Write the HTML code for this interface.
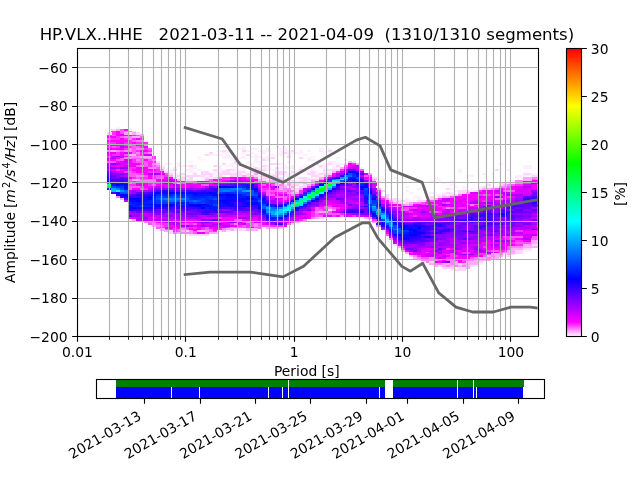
<!DOCTYPE html>
<html><head><meta charset="utf-8"><title>PPSD HP.VLX..HHE</title><style>html,body{margin:0;padding:0;background:#fff;overflow:hidden}svg{display:block;will-change:transform}</style></head><body><svg width="640" height="480" viewBox="0 0 640 480" style="display:block;font-family:'DejaVu Sans','Liberation Sans',sans-serif">
<rect width="640" height="480" fill="#fff"/>
<defs><clipPath id="c"><rect x="76.80" y="48.00" width="460.80" height="288.00"/></clipPath>
<linearGradient id="g" x1="0" y1="1" x2="0" y2="0"><stop offset="0" stop-color="#ffffff"/><stop offset="0.05" stop-color="#ff00ff"/><stop offset="0.2" stop-color="#0000ff"/><stop offset="0.4" stop-color="#00ffff"/><stop offset="0.6" stop-color="#00ff00"/><stop offset="0.8" stop-color="#ffff00"/><stop offset="1" stop-color="#ff0000"/></linearGradient></defs>
<g clip-path="url(#c)" shape-rendering="crispEdges">
<path fill="#002aff" d="M107.38 188.16h4.18v2.02h-4.18zM135.92 205.44h4.18v2.02h-4.18zM144.07 205.44h4.18v2.02h-4.18zM152.23 197.76h4.18v3.94h-4.18zM156.31 193.92h4.18v2.02h-4.18zM160.38 193.92h4.18v2.02h-4.18zM172.61 201.60h4.18v2.02h-4.18zM176.69 193.92h4.18v2.02h-4.18zM180.77 203.52h4.18v2.02h-4.18zM180.77 195.84h4.18v2.02h-4.18zM184.84 193.92h4.18v2.02h-4.18zM188.92 195.84h4.18v2.02h-4.18zM193.00 197.76h4.18v2.02h-4.18zM205.23 195.84h4.18v7.78h-4.18zM209.31 203.52h4.18v2.02h-4.18zM213.38 199.68h4.18v3.94h-4.18zM213.38 195.84h4.18v2.02h-4.18zM221.54 192.00h4.18v2.02h-4.18zM229.69 192.00h4.18v2.02h-4.18zM241.92 193.92h4.18v2.02h-4.18zM241.92 186.24h4.18v2.02h-4.18zM254.16 195.84h4.18v2.02h-4.18zM254.16 192.00h4.18v2.02h-4.18zM258.23 197.76h4.18v2.02h-4.18zM352.01 172.80h4.18v2.02h-4.18zM364.24 193.92h4.18v2.02h-4.18zM368.31 207.36h4.18v2.02h-4.18zM372.39 211.20h4.18v2.02h-4.18zM384.62 213.12h4.18v2.02h-4.18zM400.93 232.32h4.18v2.02h-4.18z"/>
<path fill="#00ff2a" d="M107.38 186.24h4.18v2.02h-4.18zM315.31 190.08h4.18v2.02h-4.18zM323.47 186.24h4.18v3.94h-4.18z"/>
<path fill="#00ffbf" d="M107.38 184.32h4.18v2.02h-4.18zM290.85 203.52h4.18v2.02h-4.18zM307.16 193.92h4.18v2.02h-4.18zM323.47 184.32h4.18v2.02h-4.18zM331.62 184.32h4.18v2.02h-4.18zM335.70 180.48h4.18v2.02h-4.18z"/>
<path fill="#006aff" d="M107.38 182.40h4.18v2.02h-4.18zM123.69 190.08h4.18v2.02h-4.18zM160.38 197.76h4.18v2.02h-4.18zM168.54 199.68h4.18v2.02h-4.18zM172.61 199.68h4.18v2.02h-4.18zM193.00 199.68h4.18v2.02h-4.18zM217.46 188.16h4.18v3.94h-4.18zM221.54 188.16h4.18v2.02h-4.18zM225.62 188.16h4.18v2.02h-4.18zM229.69 190.08h4.18v2.02h-4.18zM262.31 205.44h4.18v2.02h-4.18zM266.39 205.44h4.18v2.02h-4.18zM270.46 215.04h4.18v2.02h-4.18zM270.46 207.36h4.18v2.02h-4.18zM282.70 213.12h4.18v2.02h-4.18zM282.70 205.44h4.18v2.02h-4.18zM286.77 203.52h4.18v2.02h-4.18zM290.85 209.28h4.18v2.02h-4.18zM311.24 197.76h4.18v2.02h-4.18zM331.62 186.24h4.18v2.02h-4.18zM331.62 178.56h4.18v2.02h-4.18zM347.93 174.72h4.18v2.02h-4.18zM368.31 199.68h4.18v3.94h-4.18zM376.47 215.04h4.18v2.02h-4.18zM384.62 216.96h4.18v2.02h-4.18z"/>
<path fill="#0e00ff" d="M107.38 180.48h4.18v2.02h-4.18zM123.69 195.84h4.18v2.02h-4.18zM123.69 184.32h4.18v2.02h-4.18zM127.77 197.76h4.18v2.02h-4.18zM135.92 197.76h4.18v2.02h-4.18zM152.23 193.92h4.18v2.02h-4.18zM156.31 192.00h4.18v2.02h-4.18zM160.38 205.44h4.18v2.02h-4.18zM164.46 205.44h4.18v2.02h-4.18zM168.54 205.44h4.18v2.02h-4.18zM176.69 192.00h4.18v2.02h-4.18zM180.77 192.00h4.18v2.02h-4.18zM193.00 203.52h4.18v3.94h-4.18zM193.00 192.00h4.18v2.02h-4.18zM213.38 193.92h4.18v2.02h-4.18zM217.46 199.68h4.18v2.02h-4.18zM221.54 201.60h4.18v2.02h-4.18zM225.62 199.68h4.18v3.94h-4.18zM229.69 203.52h4.18v2.02h-4.18zM229.69 199.68h4.18v2.02h-4.18zM233.77 199.68h4.18v2.02h-4.18zM237.85 199.68h4.18v2.02h-4.18zM241.92 205.44h4.18v2.02h-4.18zM246.00 201.60h4.18v3.94h-4.18zM250.08 201.60h4.18v3.94h-4.18zM254.16 201.60h4.18v2.02h-4.18zM254.16 188.16h4.18v2.02h-4.18zM262.31 211.20h4.18v2.02h-4.18zM262.31 197.76h4.18v2.02h-4.18zM311.24 199.68h4.18v2.02h-4.18zM315.31 197.76h4.18v2.02h-4.18zM319.39 193.92h4.18v2.02h-4.18zM327.54 190.08h4.18v2.02h-4.18zM331.62 188.16h4.18v2.02h-4.18zM339.77 182.40h4.18v2.02h-4.18zM343.85 172.80h4.18v2.02h-4.18zM347.93 170.88h4.18v2.02h-4.18zM356.08 180.48h4.18v2.02h-4.18zM364.24 184.32h4.18v2.02h-4.18zM368.31 190.08h4.18v2.02h-4.18zM372.39 213.12h4.18v2.02h-4.18zM372.39 197.76h4.18v2.02h-4.18zM376.47 203.52h4.18v2.02h-4.18zM392.78 220.80h4.18v2.02h-4.18zM405.01 238.08h4.18v2.02h-4.18zM405.01 228.48h4.18v2.02h-4.18zM413.16 232.32h4.18v2.02h-4.18zM413.16 228.48h4.18v2.02h-4.18zM417.24 232.32h4.18v2.02h-4.18zM417.24 224.64h4.18v2.02h-4.18zM421.32 232.32h4.18v2.02h-4.18z"/>
<path fill="#1c00ff" d="M107.38 178.56h4.18v2.02h-4.18zM115.53 193.92h4.18v2.02h-4.18zM119.61 182.40h4.18v2.02h-4.18zM127.77 209.28h4.18v2.02h-4.18zM135.92 207.36h4.18v2.02h-4.18zM140.00 207.36h4.18v2.02h-4.18zM140.00 197.76h4.18v2.02h-4.18zM144.07 207.36h4.18v2.02h-4.18zM144.07 195.84h4.18v3.94h-4.18zM148.15 207.36h4.18v2.02h-4.18zM152.23 207.36h4.18v2.02h-4.18zM152.23 192.00h4.18v2.02h-4.18zM160.38 192.00h4.18v2.02h-4.18zM164.46 190.08h4.18v3.94h-4.18zM180.77 205.44h4.18v2.02h-4.18zM184.84 205.44h4.18v2.02h-4.18zM188.92 205.44h4.18v2.02h-4.18zM197.08 192.00h4.18v2.02h-4.18zM201.15 192.00h4.18v2.02h-4.18zM205.23 192.00h4.18v2.02h-4.18zM217.46 201.60h4.18v2.02h-4.18zM229.69 205.44h4.18v2.02h-4.18zM229.69 201.60h4.18v2.02h-4.18zM241.92 201.60h4.18v2.02h-4.18zM246.00 205.44h4.18v2.02h-4.18zM254.16 203.52h4.18v2.02h-4.18zM258.23 193.92h4.18v2.02h-4.18zM266.39 216.96h4.18v2.02h-4.18zM278.62 216.96h4.18v2.02h-4.18zM290.85 199.68h4.18v2.02h-4.18zM303.08 203.52h4.18v2.02h-4.18zM360.16 211.20h4.18v2.02h-4.18zM360.16 178.56h4.18v2.02h-4.18zM364.24 197.76h4.18v2.02h-4.18zM372.39 215.04h4.18v2.02h-4.18zM384.62 226.56h4.18v2.02h-4.18zM388.70 215.04h4.18v2.02h-4.18zM392.78 234.24h4.18v2.02h-4.18zM396.85 222.72h4.18v2.02h-4.18zM400.93 236.16h4.18v2.02h-4.18zM405.01 236.16h4.18v2.02h-4.18zM405.01 224.64h4.18v2.02h-4.18zM409.09 236.16h4.18v2.02h-4.18zM413.16 236.16h4.18v2.02h-4.18zM413.16 224.64h4.18v2.02h-4.18zM417.24 234.24h4.18v2.02h-4.18zM417.24 230.40h4.18v2.02h-4.18zM421.32 224.64h4.18v2.02h-4.18zM441.70 228.48h4.18v2.02h-4.18zM445.78 228.48h4.18v2.02h-4.18zM466.16 230.40h4.18v2.02h-4.18z"/>
<path fill="#2b00ff" d="M107.38 176.64h4.18v2.02h-4.18zM111.46 182.40h4.18v2.02h-4.18zM119.61 195.84h4.18v2.02h-4.18zM119.61 180.48h4.18v2.02h-4.18zM135.92 193.92h4.18v2.02h-4.18zM140.00 193.92h4.18v3.94h-4.18zM144.07 193.92h4.18v2.02h-4.18zM148.15 193.92h4.18v2.02h-4.18zM156.31 207.36h4.18v2.02h-4.18zM160.38 207.36h4.18v2.02h-4.18zM160.38 190.08h4.18v2.02h-4.18zM164.46 207.36h4.18v2.02h-4.18zM172.61 205.44h4.18v2.02h-4.18zM176.69 205.44h4.18v2.02h-4.18zM180.77 207.36h4.18v2.02h-4.18zM197.08 207.36h4.18v2.02h-4.18zM213.38 209.28h4.18v2.02h-4.18zM213.38 188.16h4.18v2.02h-4.18zM217.46 205.44h4.18v2.02h-4.18zM221.54 205.44h4.18v2.02h-4.18zM225.62 205.44h4.18v2.02h-4.18zM233.77 203.52h4.18v3.94h-4.18zM237.85 205.44h4.18v2.02h-4.18zM241.92 203.52h4.18v2.02h-4.18zM250.08 184.32h4.18v3.94h-4.18zM274.54 222.72h4.18v2.02h-4.18zM278.62 222.72h4.18v2.02h-4.18zM286.77 201.60h4.18v2.02h-4.18zM294.93 209.28h4.18v2.02h-4.18zM311.24 188.16h4.18v2.02h-4.18zM327.54 178.56h4.18v2.02h-4.18zM339.77 174.72h4.18v2.02h-4.18zM352.01 180.48h4.18v2.02h-4.18zM356.08 182.40h4.18v2.02h-4.18zM364.24 205.44h4.18v2.02h-4.18zM368.31 211.20h4.18v2.02h-4.18zM368.31 188.16h4.18v2.02h-4.18zM380.55 224.64h4.18v2.02h-4.18zM384.62 211.20h4.18v2.02h-4.18zM388.70 230.40h4.18v2.02h-4.18zM392.78 218.88h4.18v2.02h-4.18zM409.09 238.08h4.18v2.02h-4.18zM409.09 224.64h4.18v2.02h-4.18zM413.16 222.72h4.18v2.02h-4.18zM417.24 236.16h4.18v2.02h-4.18zM417.24 228.48h4.18v2.02h-4.18zM421.32 226.56h4.18v2.02h-4.18zM437.63 222.72h4.18v3.94h-4.18zM470.24 230.40h4.18v2.02h-4.18zM478.40 226.56h4.18v2.02h-4.18zM482.47 218.88h4.18v2.02h-4.18zM502.86 215.04h4.18v2.02h-4.18zM531.40 228.48h4.18v2.02h-4.18zM531.40 201.60h4.18v2.02h-4.18zM535.48 228.48h4.18v2.02h-4.18zM535.48 201.60h4.18v2.02h-4.18z"/>
<path fill="#4700ff" d="M107.38 174.72h4.18v2.02h-4.18zM111.46 192.00h4.18v2.02h-4.18zM111.46 178.56h4.18v2.02h-4.18zM115.53 178.56h4.18v3.94h-4.18zM119.61 176.64h4.18v3.94h-4.18zM131.84 193.92h4.18v2.02h-4.18zM135.92 209.28h4.18v2.02h-4.18zM140.00 209.28h4.18v2.02h-4.18zM140.00 192.00h4.18v2.02h-4.18zM144.07 209.28h4.18v2.02h-4.18zM148.15 209.28h4.18v2.02h-4.18zM148.15 192.00h4.18v2.02h-4.18zM168.54 190.08h4.18v2.02h-4.18zM172.61 207.36h4.18v2.02h-4.18zM184.84 209.28h4.18v2.02h-4.18zM201.15 190.08h4.18v2.02h-4.18zM205.23 213.12h4.18v2.02h-4.18zM205.23 209.28h4.18v2.02h-4.18zM205.23 190.08h4.18v2.02h-4.18zM209.31 211.20h4.18v2.02h-4.18zM209.31 190.08h4.18v2.02h-4.18zM221.54 207.36h4.18v2.02h-4.18zM229.69 207.36h4.18v2.02h-4.18zM241.92 207.36h4.18v2.02h-4.18zM241.92 184.32h4.18v2.02h-4.18zM254.16 207.36h4.18v2.02h-4.18zM258.23 209.28h4.18v2.02h-4.18zM262.31 195.84h4.18v2.02h-4.18zM266.39 218.88h4.18v2.02h-4.18zM266.39 199.68h4.18v2.02h-4.18zM270.46 218.88h4.18v2.02h-4.18zM270.46 203.52h4.18v2.02h-4.18zM286.77 215.04h4.18v2.02h-4.18zM343.85 211.20h4.18v2.02h-4.18zM347.93 209.28h4.18v2.02h-4.18zM352.01 209.28h4.18v2.02h-4.18zM356.08 209.28h4.18v3.94h-4.18zM364.24 201.60h4.18v2.02h-4.18zM372.39 193.92h4.18v2.02h-4.18zM384.62 209.28h4.18v2.02h-4.18zM396.85 220.80h4.18v2.02h-4.18zM400.93 240.00h4.18v2.02h-4.18zM405.01 222.72h4.18v2.02h-4.18zM413.16 240.00h4.18v2.02h-4.18zM421.32 234.24h4.18v2.02h-4.18zM425.39 220.80h4.18v2.02h-4.18zM429.47 228.48h4.18v2.02h-4.18zM429.47 224.64h4.18v2.02h-4.18zM433.55 228.48h4.18v2.02h-4.18zM433.55 224.64h4.18v2.02h-4.18zM437.63 228.48h4.18v2.02h-4.18zM441.70 222.72h4.18v3.94h-4.18zM449.86 228.48h4.18v2.02h-4.18zM470.24 215.04h4.18v2.02h-4.18zM478.40 213.12h4.18v2.02h-4.18zM486.55 222.72h4.18v2.02h-4.18zM486.55 215.04h4.18v3.94h-4.18zM490.63 222.72h4.18v2.02h-4.18zM490.63 213.12h4.18v2.02h-4.18zM494.70 222.72h4.18v2.02h-4.18zM494.70 213.12h4.18v2.02h-4.18zM502.86 211.20h4.18v2.02h-4.18zM506.94 207.36h4.18v2.02h-4.18zM515.09 205.44h4.18v2.02h-4.18zM519.17 205.44h4.18v2.02h-4.18zM531.40 203.52h4.18v2.02h-4.18zM535.48 203.52h4.18v2.02h-4.18z"/>
<path fill="#5500ff" d="M107.38 172.80h4.18v2.02h-4.18zM111.46 180.48h4.18v2.02h-4.18zM123.69 178.56h4.18v3.94h-4.18zM152.23 209.28h4.18v2.02h-4.18zM156.31 190.08h4.18v2.02h-4.18zM164.46 209.28h4.18v2.02h-4.18zM168.54 209.28h4.18v2.02h-4.18zM176.69 211.20h4.18v2.02h-4.18zM180.77 209.28h4.18v2.02h-4.18zM184.84 190.08h4.18v2.02h-4.18zM188.92 190.08h4.18v2.02h-4.18zM197.08 209.28h4.18v2.02h-4.18zM197.08 190.08h4.18v2.02h-4.18zM201.15 213.12h4.18v2.02h-4.18zM201.15 209.28h4.18v2.02h-4.18zM209.31 188.16h4.18v2.02h-4.18zM225.62 207.36h4.18v2.02h-4.18zM233.77 209.28h4.18v2.02h-4.18zM233.77 184.32h4.18v2.02h-4.18zM237.85 209.28h4.18v2.02h-4.18zM237.85 184.32h4.18v2.02h-4.18zM241.92 209.28h4.18v2.02h-4.18zM246.00 209.28h4.18v2.02h-4.18zM250.08 207.36h4.18v3.94h-4.18zM278.62 203.52h4.18v2.02h-4.18zM299.00 207.36h4.18v2.02h-4.18zM303.08 192.00h4.18v2.02h-4.18zM307.16 203.52h4.18v2.02h-4.18zM307.16 190.08h4.18v2.02h-4.18zM323.47 193.92h4.18v2.02h-4.18zM323.47 180.48h4.18v2.02h-4.18zM327.54 192.00h4.18v2.02h-4.18zM331.62 190.08h4.18v2.02h-4.18zM339.77 184.32h4.18v2.02h-4.18zM343.85 182.40h4.18v3.94h-4.18zM347.93 168.96h4.18v2.02h-4.18zM352.01 168.96h4.18v2.02h-4.18zM360.16 190.08h4.18v2.02h-4.18zM360.16 176.64h4.18v2.02h-4.18zM360.16 172.80h4.18v2.02h-4.18zM368.31 213.12h4.18v2.02h-4.18zM376.47 218.88h4.18v2.02h-4.18zM384.62 228.48h4.18v2.02h-4.18zM392.78 236.16h4.18v2.02h-4.18zM392.78 216.96h4.18v2.02h-4.18zM417.24 240.00h4.18v2.02h-4.18zM417.24 220.80h4.18v2.02h-4.18zM421.32 238.08h4.18v3.94h-4.18zM421.32 220.80h4.18v3.94h-4.18zM425.39 240.00h4.18v2.02h-4.18zM429.47 232.32h4.18v2.02h-4.18zM429.47 226.56h4.18v2.02h-4.18zM429.47 220.80h4.18v2.02h-4.18zM445.78 220.80h4.18v3.94h-4.18zM449.86 220.80h4.18v2.02h-4.18zM453.93 218.88h4.18v2.02h-4.18zM462.09 238.08h4.18v2.02h-4.18zM466.16 216.96h4.18v2.02h-4.18zM470.24 220.80h4.18v2.02h-4.18zM470.24 213.12h4.18v2.02h-4.18zM474.32 226.56h4.18v2.02h-4.18zM474.32 213.12h4.18v2.02h-4.18zM478.40 224.64h4.18v2.02h-4.18zM482.47 222.72h4.18v2.02h-4.18zM482.47 216.96h4.18v2.02h-4.18zM482.47 211.20h4.18v2.02h-4.18zM486.55 220.80h4.18v2.02h-4.18zM486.55 211.20h4.18v2.02h-4.18zM490.63 230.40h4.18v2.02h-4.18zM490.63 218.88h4.18v2.02h-4.18zM490.63 215.04h4.18v2.02h-4.18zM498.78 209.28h4.18v3.94h-4.18zM502.86 209.28h4.18v2.02h-4.18zM506.94 213.12h4.18v3.94h-4.18zM511.01 220.80h4.18v2.02h-4.18zM511.01 215.04h4.18v3.94h-4.18zM511.01 211.20h4.18v2.02h-4.18zM511.01 205.44h4.18v2.02h-4.18zM515.09 209.28h4.18v2.02h-4.18zM515.09 201.60h4.18v2.02h-4.18zM519.17 209.28h4.18v2.02h-4.18zM519.17 201.60h4.18v2.02h-4.18zM523.24 199.68h4.18v3.94h-4.18zM523.24 195.84h4.18v2.02h-4.18zM527.32 199.68h4.18v3.94h-4.18zM527.32 195.84h4.18v2.02h-4.18zM531.40 209.28h4.18v2.02h-4.18zM531.40 205.44h4.18v2.02h-4.18zM531.40 195.84h4.18v2.02h-4.18zM535.48 209.28h4.18v2.02h-4.18zM535.48 205.44h4.18v2.02h-4.18zM535.48 195.84h4.18v2.02h-4.18z"/>
<path fill="#7100ff" d="M107.38 170.88h4.18v2.02h-4.18zM111.46 176.64h4.18v2.02h-4.18zM135.92 211.20h4.18v2.02h-4.18zM152.23 211.20h4.18v2.02h-4.18zM152.23 190.08h4.18v2.02h-4.18zM156.31 209.28h4.18v3.94h-4.18zM160.38 209.28h4.18v2.02h-4.18zM164.46 211.20h4.18v2.02h-4.18zM180.77 211.20h4.18v2.02h-4.18zM184.84 213.12h4.18v2.02h-4.18zM193.00 211.20h4.18v2.02h-4.18zM205.23 220.80h4.18v2.02h-4.18zM205.23 188.16h4.18v2.02h-4.18zM209.31 218.88h4.18v2.02h-4.18zM209.31 213.12h4.18v2.02h-4.18zM217.46 184.32h4.18v2.02h-4.18zM221.54 184.32h4.18v2.02h-4.18zM225.62 184.32h4.18v2.02h-4.18zM229.69 209.28h4.18v3.94h-4.18zM254.16 209.28h4.18v2.02h-4.18zM254.16 184.32h4.18v2.02h-4.18zM262.31 215.04h4.18v2.02h-4.18zM274.54 218.88h4.18v2.02h-4.18zM274.54 203.52h4.18v2.02h-4.18zM278.62 218.88h4.18v2.02h-4.18zM294.93 195.84h4.18v2.02h-4.18zM299.00 193.92h4.18v2.02h-4.18zM311.24 203.52h4.18v2.02h-4.18zM339.77 188.16h4.18v2.02h-4.18zM347.93 184.32h4.18v2.02h-4.18zM356.08 192.00h4.18v2.02h-4.18zM360.16 205.44h4.18v2.02h-4.18zM364.24 209.28h4.18v2.02h-4.18zM376.47 199.68h4.18v2.02h-4.18zM384.62 207.36h4.18v2.02h-4.18zM392.78 215.04h4.18v2.02h-4.18zM396.85 240.00h4.18v2.02h-4.18zM413.16 249.60h4.18v2.02h-4.18zM417.24 241.92h4.18v2.02h-4.18zM425.39 238.08h4.18v2.02h-4.18zM429.47 238.08h4.18v3.94h-4.18zM429.47 222.72h4.18v2.02h-4.18zM433.55 238.08h4.18v2.02h-4.18zM433.55 220.80h4.18v2.02h-4.18zM437.63 226.56h4.18v2.02h-4.18zM449.86 226.56h4.18v2.02h-4.18zM449.86 222.72h4.18v2.02h-4.18zM449.86 216.96h4.18v3.94h-4.18zM453.93 224.64h4.18v2.02h-4.18zM453.93 215.04h4.18v3.94h-4.18zM458.01 232.32h4.18v2.02h-4.18zM458.01 215.04h4.18v2.02h-4.18zM462.09 232.32h4.18v3.94h-4.18zM462.09 215.04h4.18v2.02h-4.18zM466.16 238.08h4.18v2.02h-4.18zM474.32 228.48h4.18v2.02h-4.18zM478.40 220.80h4.18v2.02h-4.18zM478.40 216.96h4.18v2.02h-4.18zM482.47 220.80h4.18v2.02h-4.18zM482.47 209.28h4.18v2.02h-4.18zM482.47 205.44h4.18v2.02h-4.18zM486.55 228.48h4.18v2.02h-4.18zM490.63 234.24h4.18v2.02h-4.18zM490.63 220.80h4.18v2.02h-4.18zM490.63 207.36h4.18v2.02h-4.18zM494.70 195.84h4.18v2.02h-4.18zM498.78 218.88h4.18v3.94h-4.18zM502.86 222.72h4.18v2.02h-4.18zM502.86 218.88h4.18v2.02h-4.18zM506.94 226.56h4.18v2.02h-4.18zM506.94 218.88h4.18v2.02h-4.18zM515.09 220.80h4.18v2.02h-4.18zM515.09 215.04h4.18v2.02h-4.18zM519.17 220.80h4.18v2.02h-4.18zM519.17 215.04h4.18v2.02h-4.18zM523.24 211.20h4.18v2.02h-4.18zM523.24 205.44h4.18v2.02h-4.18zM527.32 211.20h4.18v2.02h-4.18zM527.32 205.44h4.18v2.02h-4.18zM531.40 218.88h4.18v2.02h-4.18zM531.40 192.00h4.18v2.02h-4.18zM535.48 218.88h4.18v2.02h-4.18zM535.48 192.00h4.18v2.02h-4.18z"/>
<path fill="#b800ff" d="M107.38 168.96h4.18v2.02h-4.18zM107.38 163.20h4.18v3.94h-4.18zM111.46 170.88h4.18v2.02h-4.18zM111.46 157.44h4.18v2.02h-4.18zM115.53 167.04h4.18v2.02h-4.18zM115.53 163.20h4.18v2.02h-4.18zM123.69 174.72h4.18v2.02h-4.18zM123.69 165.12h4.18v2.02h-4.18zM127.77 190.08h4.18v3.94h-4.18zM135.92 218.88h4.18v2.02h-4.18zM135.92 190.08h4.18v2.02h-4.18zM140.00 218.88h4.18v2.02h-4.18zM140.00 215.04h4.18v2.02h-4.18zM144.07 218.88h4.18v2.02h-4.18zM144.07 215.04h4.18v2.02h-4.18zM144.07 190.08h4.18v2.02h-4.18zM148.15 213.12h4.18v3.94h-4.18zM164.46 213.12h4.18v2.02h-4.18zM168.54 216.96h4.18v2.02h-4.18zM168.54 178.56h4.18v3.94h-4.18zM172.61 180.48h4.18v2.02h-4.18zM180.77 216.96h4.18v2.02h-4.18zM188.92 216.96h4.18v2.02h-4.18zM193.00 188.16h4.18v2.02h-4.18zM197.08 220.80h4.18v2.02h-4.18zM197.08 215.04h4.18v3.94h-4.18zM205.23 224.64h4.18v2.02h-4.18zM209.31 224.64h4.18v2.02h-4.18zM209.31 220.80h4.18v2.02h-4.18zM213.38 182.40h4.18v2.02h-4.18zM217.46 182.40h4.18v2.02h-4.18zM221.54 213.12h4.18v3.94h-4.18zM225.62 182.40h4.18v2.02h-4.18zM237.85 213.12h4.18v2.02h-4.18zM246.00 216.96h4.18v2.02h-4.18zM246.00 213.12h4.18v2.02h-4.18zM246.00 180.48h4.18v3.94h-4.18zM250.08 215.04h4.18v2.02h-4.18zM258.23 215.04h4.18v3.94h-4.18zM258.23 188.16h4.18v2.02h-4.18zM266.39 220.80h4.18v2.02h-4.18zM278.62 201.60h4.18v2.02h-4.18zM282.70 220.80h4.18v3.94h-4.18zM286.77 199.68h4.18v2.02h-4.18zM299.00 211.20h4.18v2.02h-4.18zM303.08 213.12h4.18v2.02h-4.18zM303.08 188.16h4.18v3.94h-4.18zM315.31 205.44h4.18v2.02h-4.18zM315.31 184.32h4.18v2.02h-4.18zM319.39 201.60h4.18v3.94h-4.18zM327.54 197.76h4.18v2.02h-4.18zM331.62 197.76h4.18v2.02h-4.18zM335.70 211.20h4.18v2.02h-4.18zM335.70 174.72h4.18v2.02h-4.18zM339.77 193.92h4.18v2.02h-4.18zM343.85 186.24h4.18v2.02h-4.18zM343.85 168.96h4.18v2.02h-4.18zM347.93 197.76h4.18v2.02h-4.18zM352.01 199.68h4.18v2.02h-4.18zM352.01 195.84h4.18v2.02h-4.18zM360.16 201.60h4.18v3.94h-4.18zM384.62 230.40h4.18v2.02h-4.18zM392.78 209.28h4.18v2.02h-4.18zM400.93 213.12h4.18v3.94h-4.18zM417.24 247.68h4.18v3.94h-4.18zM425.39 211.20h4.18v2.02h-4.18zM429.47 241.92h4.18v3.94h-4.18zM429.47 216.96h4.18v2.02h-4.18zM429.47 213.12h4.18v2.02h-4.18zM437.63 240.00h4.18v2.02h-4.18zM437.63 215.04h4.18v2.02h-4.18zM445.78 213.12h4.18v2.02h-4.18zM445.78 203.52h4.18v2.02h-4.18zM449.86 251.52h4.18v2.02h-4.18zM449.86 245.76h4.18v2.02h-4.18zM449.86 238.08h4.18v3.94h-4.18zM453.93 241.92h4.18v2.02h-4.18zM458.01 253.44h4.18v2.02h-4.18zM458.01 243.84h4.18v2.02h-4.18zM458.01 211.20h4.18v2.02h-4.18zM462.09 240.00h4.18v2.02h-4.18zM466.16 240.00h4.18v2.02h-4.18zM470.24 245.76h4.18v2.02h-4.18zM470.24 234.24h4.18v2.02h-4.18zM470.24 207.36h4.18v2.02h-4.18zM470.24 201.60h4.18v2.02h-4.18zM474.32 251.52h4.18v2.02h-4.18zM474.32 240.00h4.18v2.02h-4.18zM474.32 207.36h4.18v3.94h-4.18zM474.32 199.68h4.18v3.94h-4.18zM478.40 247.68h4.18v2.02h-4.18zM478.40 238.08h4.18v2.02h-4.18zM478.40 201.60h4.18v2.02h-4.18zM482.47 251.52h4.18v2.02h-4.18zM482.47 240.00h4.18v2.02h-4.18zM482.47 236.16h4.18v2.02h-4.18zM482.47 232.32h4.18v2.02h-4.18zM482.47 201.60h4.18v2.02h-4.18zM490.63 243.84h4.18v2.02h-4.18zM490.63 240.00h4.18v2.02h-4.18zM490.63 199.68h4.18v2.02h-4.18zM494.70 243.84h4.18v2.02h-4.18zM494.70 201.60h4.18v2.02h-4.18zM502.86 230.40h4.18v3.94h-4.18zM502.86 224.64h4.18v2.02h-4.18zM502.86 201.60h4.18v2.02h-4.18zM502.86 193.92h4.18v2.02h-4.18zM506.94 240.00h4.18v2.02h-4.18zM506.94 201.60h4.18v2.02h-4.18zM511.01 199.68h4.18v2.02h-4.18zM511.01 193.92h4.18v2.02h-4.18zM515.09 226.56h4.18v3.94h-4.18zM515.09 195.84h4.18v2.02h-4.18zM519.17 226.56h4.18v3.94h-4.18zM519.17 195.84h4.18v2.02h-4.18zM523.24 238.08h4.18v2.02h-4.18zM523.24 224.64h4.18v2.02h-4.18zM523.24 218.88h4.18v2.02h-4.18zM523.24 186.24h4.18v2.02h-4.18zM527.32 238.08h4.18v2.02h-4.18zM527.32 224.64h4.18v2.02h-4.18zM527.32 218.88h4.18v2.02h-4.18zM527.32 186.24h4.18v2.02h-4.18zM531.40 234.24h4.18v2.02h-4.18zM531.40 226.56h4.18v2.02h-4.18zM531.40 220.80h4.18v2.02h-4.18zM531.40 213.12h4.18v2.02h-4.18zM535.48 234.24h4.18v2.02h-4.18zM535.48 226.56h4.18v2.02h-4.18zM535.48 220.80h4.18v2.02h-4.18zM535.48 213.12h4.18v2.02h-4.18z"/>
<path fill="#8e00ff" d="M107.38 167.04h4.18v2.02h-4.18zM111.46 167.04h4.18v2.02h-4.18zM115.53 172.80h4.18v3.94h-4.18zM115.53 155.52h4.18v2.02h-4.18zM131.84 211.20h4.18v2.02h-4.18zM144.07 211.20h4.18v2.02h-4.18zM156.31 213.12h4.18v2.02h-4.18zM156.31 188.16h4.18v2.02h-4.18zM160.38 188.16h4.18v2.02h-4.18zM164.46 188.16h4.18v2.02h-4.18zM168.54 215.04h4.18v2.02h-4.18zM176.69 188.16h4.18v2.02h-4.18zM184.84 224.64h4.18v2.02h-4.18zM184.84 211.20h4.18v2.02h-4.18zM188.92 215.04h4.18v2.02h-4.18zM193.00 215.04h4.18v2.02h-4.18zM201.15 220.80h4.18v2.02h-4.18zM201.15 188.16h4.18v2.02h-4.18zM205.23 218.88h4.18v2.02h-4.18zM213.38 213.12h4.18v2.02h-4.18zM217.46 209.28h4.18v2.02h-4.18zM225.62 209.28h4.18v2.02h-4.18zM229.69 220.80h4.18v2.02h-4.18zM233.77 182.40h4.18v2.02h-4.18zM237.85 182.40h4.18v2.02h-4.18zM241.92 211.20h4.18v2.02h-4.18zM250.08 213.12h4.18v2.02h-4.18zM266.39 197.76h4.18v2.02h-4.18zM274.54 220.80h4.18v2.02h-4.18zM274.54 186.24h4.18v2.02h-4.18zM282.70 218.88h4.18v2.02h-4.18zM282.70 201.60h4.18v2.02h-4.18zM286.77 216.96h4.18v2.02h-4.18zM290.85 215.04h4.18v2.02h-4.18zM299.00 209.28h4.18v2.02h-4.18zM315.31 201.60h4.18v3.94h-4.18zM319.39 199.68h4.18v2.02h-4.18zM323.47 195.84h4.18v2.02h-4.18zM327.54 193.92h4.18v3.94h-4.18zM331.62 195.84h4.18v2.02h-4.18zM339.77 199.68h4.18v2.02h-4.18zM343.85 188.16h4.18v2.02h-4.18zM347.93 192.00h4.18v3.94h-4.18zM352.01 207.36h4.18v2.02h-4.18zM352.01 193.92h4.18v2.02h-4.18zM352.01 186.24h4.18v2.02h-4.18zM356.08 193.92h4.18v2.02h-4.18zM360.16 199.68h4.18v2.02h-4.18zM360.16 170.88h4.18v2.02h-4.18zM364.24 213.12h4.18v2.02h-4.18zM364.24 207.36h4.18v2.02h-4.18zM364.24 203.52h4.18v2.02h-4.18zM368.31 186.24h4.18v2.02h-4.18zM372.39 216.96h4.18v2.02h-4.18zM372.39 190.08h4.18v2.02h-4.18zM388.70 209.28h4.18v2.02h-4.18zM392.78 213.12h4.18v2.02h-4.18zM400.93 243.84h4.18v2.02h-4.18zM405.01 243.84h4.18v2.02h-4.18zM405.01 218.88h4.18v2.02h-4.18zM409.09 249.60h4.18v2.02h-4.18zM409.09 218.88h4.18v2.02h-4.18zM413.16 247.68h4.18v2.02h-4.18zM417.24 243.84h4.18v3.94h-4.18zM429.47 234.24h4.18v2.02h-4.18zM429.47 230.40h4.18v2.02h-4.18zM433.55 249.60h4.18v2.02h-4.18zM433.55 240.00h4.18v2.02h-4.18zM433.55 234.24h4.18v3.94h-4.18zM433.55 218.88h4.18v2.02h-4.18zM437.63 243.84h4.18v2.02h-4.18zM437.63 234.24h4.18v2.02h-4.18zM441.70 243.84h4.18v2.02h-4.18zM441.70 234.24h4.18v5.86h-4.18zM441.70 216.96h4.18v3.94h-4.18zM445.78 218.88h4.18v2.02h-4.18zM449.86 232.32h4.18v3.94h-4.18zM453.93 236.16h4.18v2.02h-4.18zM458.01 228.48h4.18v2.02h-4.18zM458.01 220.80h4.18v2.02h-4.18zM462.09 253.44h4.18v2.02h-4.18zM462.09 241.92h4.18v2.02h-4.18zM462.09 236.16h4.18v2.02h-4.18zM462.09 228.48h4.18v2.02h-4.18zM462.09 220.80h4.18v2.02h-4.18zM466.16 253.44h4.18v2.02h-4.18zM466.16 228.48h4.18v2.02h-4.18zM466.16 224.64h4.18v2.02h-4.18zM470.24 253.44h4.18v2.02h-4.18zM470.24 226.56h4.18v2.02h-4.18zM470.24 222.72h4.18v2.02h-4.18zM474.32 236.16h4.18v2.02h-4.18zM474.32 222.72h4.18v2.02h-4.18zM478.40 209.28h4.18v3.94h-4.18zM482.47 234.24h4.18v2.02h-4.18zM486.55 207.36h4.18v2.02h-4.18zM486.55 201.60h4.18v2.02h-4.18zM490.63 226.56h4.18v2.02h-4.18zM490.63 209.28h4.18v3.94h-4.18zM490.63 205.44h4.18v2.02h-4.18zM494.70 228.48h4.18v2.02h-4.18zM494.70 209.28h4.18v3.94h-4.18zM498.78 230.40h4.18v2.02h-4.18zM498.78 224.64h4.18v2.02h-4.18zM498.78 216.96h4.18v2.02h-4.18zM502.86 216.96h4.18v2.02h-4.18zM502.86 205.44h4.18v2.02h-4.18zM506.94 234.24h4.18v2.02h-4.18zM506.94 209.28h4.18v2.02h-4.18zM515.09 224.64h4.18v2.02h-4.18zM515.09 213.12h4.18v2.02h-4.18zM515.09 199.68h4.18v2.02h-4.18zM519.17 224.64h4.18v2.02h-4.18zM519.17 213.12h4.18v2.02h-4.18zM519.17 199.68h4.18v2.02h-4.18zM523.24 216.96h4.18v2.02h-4.18zM523.24 213.12h4.18v2.02h-4.18zM523.24 209.28h4.18v2.02h-4.18zM527.32 216.96h4.18v2.02h-4.18zM527.32 213.12h4.18v2.02h-4.18zM527.32 209.28h4.18v2.02h-4.18z"/>
<path fill="#ff55ff" d="M107.38 161.28h4.18v2.02h-4.18zM107.38 138.24h4.18v2.02h-4.18zM111.46 161.28h4.18v2.02h-4.18zM111.46 145.92h4.18v2.02h-4.18zM111.46 134.40h4.18v2.02h-4.18zM115.53 159.36h4.18v2.02h-4.18zM119.61 157.44h4.18v3.94h-4.18zM119.61 149.76h4.18v2.02h-4.18zM119.61 136.32h4.18v2.02h-4.18zM119.61 128.64h4.18v5.86h-4.18zM123.69 153.60h4.18v2.02h-4.18zM127.77 186.24h4.18v3.94h-4.18zM127.77 178.56h4.18v3.94h-4.18zM127.77 170.88h4.18v5.86h-4.18zM127.77 155.52h4.18v2.02h-4.18zM131.84 186.24h4.18v2.02h-4.18zM131.84 182.40h4.18v2.02h-4.18zM131.84 172.80h4.18v3.94h-4.18zM131.84 157.44h4.18v2.02h-4.18zM131.84 144.00h4.18v9.70h-4.18zM131.84 140.16h4.18v2.02h-4.18zM135.92 186.24h4.18v2.02h-4.18zM135.92 180.48h4.18v2.02h-4.18zM135.92 176.64h4.18v2.02h-4.18zM135.92 172.80h4.18v2.02h-4.18zM135.92 165.12h4.18v2.02h-4.18zM135.92 161.28h4.18v2.02h-4.18zM135.92 157.44h4.18v2.02h-4.18zM135.92 153.60h4.18v2.02h-4.18zM135.92 145.92h4.18v2.02h-4.18zM135.92 134.40h4.18v2.02h-4.18zM140.00 188.16h4.18v2.02h-4.18zM140.00 178.56h4.18v2.02h-4.18zM140.00 157.44h4.18v5.86h-4.18zM140.00 136.32h4.18v2.02h-4.18zM144.07 178.56h4.18v2.02h-4.18zM144.07 174.72h4.18v2.02h-4.18zM144.07 161.28h4.18v5.86h-4.18zM144.07 151.68h4.18v2.02h-4.18zM148.15 220.80h4.18v3.94h-4.18zM148.15 159.36h4.18v2.02h-4.18zM148.15 147.84h4.18v2.02h-4.18zM152.23 220.80h4.18v2.02h-4.18zM152.23 184.32h4.18v2.02h-4.18zM152.23 165.12h4.18v2.02h-4.18zM156.31 226.56h4.18v2.02h-4.18zM156.31 222.72h4.18v2.02h-4.18zM156.31 174.72h4.18v3.94h-4.18zM156.31 167.04h4.18v2.02h-4.18zM160.38 224.64h4.18v2.02h-4.18zM160.38 174.72h4.18v3.94h-4.18zM164.46 228.48h4.18v2.02h-4.18zM164.46 172.80h4.18v2.02h-4.18zM172.61 182.40h4.18v2.02h-4.18zM176.69 228.48h4.18v3.94h-4.18zM180.77 182.40h4.18v2.02h-4.18zM184.84 228.48h4.18v2.02h-4.18zM184.84 222.72h4.18v2.02h-4.18zM193.00 230.40h4.18v3.94h-4.18zM193.00 222.72h4.18v2.02h-4.18zM193.00 180.48h4.18v2.02h-4.18zM201.15 184.32h4.18v2.02h-4.18zM205.23 232.32h4.18v2.02h-4.18zM205.23 226.56h4.18v3.94h-4.18zM205.23 184.32h4.18v2.02h-4.18zM209.31 228.48h4.18v3.94h-4.18zM209.31 178.56h4.18v3.94h-4.18zM213.38 180.48h4.18v2.02h-4.18zM225.62 178.56h4.18v2.02h-4.18zM233.77 226.56h4.18v2.02h-4.18zM233.77 218.88h4.18v2.02h-4.18zM237.85 226.56h4.18v2.02h-4.18zM237.85 218.88h4.18v2.02h-4.18zM241.92 224.64h4.18v3.94h-4.18zM250.08 222.72h4.18v3.94h-4.18zM254.16 226.56h4.18v2.02h-4.18zM254.16 180.48h4.18v2.02h-4.18zM258.23 222.72h4.18v5.86h-4.18zM262.31 224.64h4.18v2.02h-4.18zM262.31 184.32h4.18v2.02h-4.18zM262.31 180.48h4.18v2.02h-4.18zM266.39 224.64h4.18v2.02h-4.18zM266.39 190.08h4.18v5.86h-4.18zM270.46 193.92h4.18v2.02h-4.18zM270.46 190.08h4.18v2.02h-4.18zM270.46 184.32h4.18v2.02h-4.18zM274.54 195.84h4.18v2.02h-4.18zM274.54 188.16h4.18v3.94h-4.18zM278.62 195.84h4.18v2.02h-4.18zM282.70 195.84h4.18v3.94h-4.18zM286.77 222.72h4.18v2.02h-4.18zM286.77 190.08h4.18v2.02h-4.18zM290.85 220.80h4.18v2.02h-4.18zM307.16 186.24h4.18v2.02h-4.18zM311.24 184.32h4.18v2.02h-4.18zM315.31 213.12h4.18v3.94h-4.18zM315.31 207.36h4.18v3.94h-4.18zM319.39 215.04h4.18v2.02h-4.18zM319.39 209.28h4.18v2.02h-4.18zM323.47 205.44h4.18v3.94h-4.18zM327.54 211.20h4.18v3.94h-4.18zM327.54 174.72h4.18v2.02h-4.18zM331.62 213.12h4.18v2.02h-4.18zM331.62 207.36h4.18v2.02h-4.18zM335.70 213.12h4.18v2.02h-4.18zM343.85 165.12h4.18v2.02h-4.18zM360.16 168.96h4.18v2.02h-4.18zM364.24 174.72h4.18v2.02h-4.18zM384.62 234.24h4.18v2.02h-4.18zM388.70 201.60h4.18v2.02h-4.18zM396.85 205.44h4.18v2.02h-4.18zM400.93 209.28h4.18v2.02h-4.18zM405.01 207.36h4.18v3.94h-4.18zM421.32 257.28h4.18v2.02h-4.18zM421.32 201.60h4.18v2.02h-4.18zM425.39 257.28h4.18v2.02h-4.18zM425.39 203.52h4.18v2.02h-4.18zM425.39 199.68h4.18v2.02h-4.18zM429.47 203.52h4.18v2.02h-4.18zM429.47 199.68h4.18v2.02h-4.18zM433.55 211.20h4.18v2.02h-4.18zM445.78 259.20h4.18v2.02h-4.18zM445.78 201.60h4.18v2.02h-4.18zM449.86 207.36h4.18v2.02h-4.18zM449.86 195.84h4.18v2.02h-4.18zM462.09 259.20h4.18v2.02h-4.18zM470.24 257.28h4.18v2.02h-4.18zM474.32 203.52h4.18v2.02h-4.18zM482.47 255.36h4.18v2.02h-4.18zM482.47 193.92h4.18v2.02h-4.18zM486.55 253.44h4.18v2.02h-4.18zM490.63 249.60h4.18v2.02h-4.18zM494.70 249.60h4.18v2.02h-4.18zM494.70 197.76h4.18v2.02h-4.18zM494.70 193.92h4.18v2.02h-4.18zM494.70 188.16h4.18v2.02h-4.18zM498.78 251.52h4.18v2.02h-4.18zM498.78 197.76h4.18v2.02h-4.18zM502.86 190.08h4.18v2.02h-4.18zM506.94 245.76h4.18v3.94h-4.18zM506.94 186.24h4.18v2.02h-4.18zM511.01 236.16h4.18v2.02h-4.18zM511.01 190.08h4.18v2.02h-4.18zM511.01 184.32h4.18v2.02h-4.18zM515.09 241.92h4.18v2.02h-4.18zM515.09 236.16h4.18v2.02h-4.18zM519.17 241.92h4.18v2.02h-4.18zM519.17 236.16h4.18v2.02h-4.18zM523.24 241.92h4.18v2.02h-4.18zM527.32 241.92h4.18v2.02h-4.18zM531.40 236.16h4.18v3.94h-4.18zM531.40 178.56h4.18v2.02h-4.18zM535.48 236.16h4.18v3.94h-4.18zM535.48 178.56h4.18v2.02h-4.18z"/>
<path fill="#f100ff" d="M107.38 159.36h4.18v2.02h-4.18zM111.46 144.00h4.18v2.02h-4.18zM115.53 147.84h4.18v2.02h-4.18zM115.53 144.00h4.18v2.02h-4.18zM115.53 134.40h4.18v2.02h-4.18zM115.53 130.56h4.18v2.02h-4.18zM119.61 165.12h4.18v2.02h-4.18zM119.61 142.08h4.18v2.02h-4.18zM119.61 138.24h4.18v2.02h-4.18zM123.69 163.20h4.18v2.02h-4.18zM123.69 134.40h4.18v2.02h-4.18zM127.77 216.96h4.18v2.02h-4.18zM127.77 176.64h4.18v2.02h-4.18zM127.77 165.12h4.18v2.02h-4.18zM127.77 151.68h4.18v2.02h-4.18zM131.84 163.20h4.18v2.02h-4.18zM135.92 167.04h4.18v2.02h-4.18zM135.92 163.20h4.18v2.02h-4.18zM135.92 144.00h4.18v2.02h-4.18zM135.92 138.24h4.18v2.02h-4.18zM140.00 182.40h4.18v2.02h-4.18zM140.00 149.76h4.18v2.02h-4.18zM144.07 172.80h4.18v2.02h-4.18zM144.07 167.04h4.18v2.02h-4.18zM144.07 149.76h4.18v2.02h-4.18zM160.38 220.80h4.18v2.02h-4.18zM160.38 178.56h4.18v2.02h-4.18zM164.46 226.56h4.18v2.02h-4.18zM164.46 184.32h4.18v2.02h-4.18zM168.54 186.24h4.18v2.02h-4.18zM172.61 224.64h4.18v3.94h-4.18zM172.61 218.88h4.18v2.02h-4.18zM180.77 184.32h4.18v2.02h-4.18zM184.84 218.88h4.18v3.94h-4.18zM184.84 182.40h4.18v5.86h-4.18zM188.92 184.32h4.18v2.02h-4.18zM193.00 228.48h4.18v2.02h-4.18zM193.00 224.64h4.18v2.02h-4.18zM193.00 184.32h4.18v2.02h-4.18zM197.08 226.56h4.18v2.02h-4.18zM197.08 184.32h4.18v3.94h-4.18zM197.08 180.48h4.18v2.02h-4.18zM201.15 180.48h4.18v2.02h-4.18zM209.31 184.32h4.18v2.02h-4.18zM217.46 226.56h4.18v2.02h-4.18zM217.46 178.56h4.18v2.02h-4.18zM225.62 222.72h4.18v2.02h-4.18zM229.69 218.88h4.18v2.02h-4.18zM233.77 216.96h4.18v2.02h-4.18zM233.77 176.64h4.18v2.02h-4.18zM237.85 222.72h4.18v2.02h-4.18zM237.85 176.64h4.18v2.02h-4.18zM241.92 218.88h4.18v2.02h-4.18zM250.08 226.56h4.18v2.02h-4.18zM250.08 216.96h4.18v3.94h-4.18zM254.16 216.96h4.18v2.02h-4.18zM254.16 178.56h4.18v2.02h-4.18zM258.23 184.32h4.18v2.02h-4.18zM262.31 220.80h4.18v2.02h-4.18zM262.31 186.24h4.18v2.02h-4.18zM262.31 182.40h4.18v2.02h-4.18zM270.46 188.16h4.18v2.02h-4.18zM278.62 197.76h4.18v3.94h-4.18zM282.70 224.64h4.18v2.02h-4.18zM286.77 220.80h4.18v2.02h-4.18zM294.93 216.96h4.18v2.02h-4.18zM303.08 215.04h4.18v2.02h-4.18zM303.08 211.20h4.18v2.02h-4.18zM307.16 215.04h4.18v3.94h-4.18zM311.24 207.36h4.18v2.02h-4.18zM319.39 205.44h4.18v2.02h-4.18zM327.54 201.60h4.18v3.94h-4.18zM331.62 211.20h4.18v2.02h-4.18zM335.70 209.28h4.18v2.02h-4.18zM339.77 203.52h4.18v2.02h-4.18zM347.93 163.20h4.18v3.94h-4.18zM364.24 176.64h4.18v2.02h-4.18zM372.39 186.24h4.18v2.02h-4.18zM376.47 195.84h4.18v2.02h-4.18zM380.55 228.48h4.18v2.02h-4.18zM380.55 201.60h4.18v2.02h-4.18zM384.62 232.32h4.18v2.02h-4.18zM384.62 199.68h4.18v2.02h-4.18zM396.85 209.28h4.18v2.02h-4.18zM396.85 203.52h4.18v2.02h-4.18zM400.93 205.44h4.18v2.02h-4.18zM413.16 251.52h4.18v2.02h-4.18zM413.16 211.20h4.18v3.94h-4.18zM417.24 215.04h4.18v2.02h-4.18zM421.32 207.36h4.18v2.02h-4.18zM429.47 207.36h4.18v2.02h-4.18zM433.55 205.44h4.18v2.02h-4.18zM433.55 201.60h4.18v2.02h-4.18zM437.63 253.44h4.18v3.94h-4.18zM437.63 213.12h4.18v2.02h-4.18zM437.63 201.60h4.18v2.02h-4.18zM441.70 209.28h4.18v2.02h-4.18zM445.78 205.44h4.18v2.02h-4.18zM449.86 197.76h4.18v2.02h-4.18zM453.93 253.44h4.18v2.02h-4.18zM453.93 249.60h4.18v2.02h-4.18zM453.93 199.68h4.18v2.02h-4.18zM453.93 195.84h4.18v2.02h-4.18zM458.01 249.60h4.18v3.94h-4.18zM458.01 203.52h4.18v3.94h-4.18zM458.01 197.76h4.18v2.02h-4.18zM462.09 255.36h4.18v3.94h-4.18zM466.16 255.36h4.18v2.02h-4.18zM466.16 197.76h4.18v2.02h-4.18zM466.16 193.92h4.18v2.02h-4.18zM470.24 255.36h4.18v2.02h-4.18zM470.24 249.60h4.18v3.94h-4.18zM470.24 195.84h4.18v3.94h-4.18zM474.32 197.76h4.18v2.02h-4.18zM478.40 199.68h4.18v2.02h-4.18zM478.40 192.00h4.18v2.02h-4.18zM482.47 243.84h4.18v2.02h-4.18zM482.47 203.52h4.18v2.02h-4.18zM482.47 192.00h4.18v2.02h-4.18zM486.55 245.76h4.18v3.94h-4.18zM486.55 241.92h4.18v2.02h-4.18zM486.55 195.84h4.18v2.02h-4.18zM490.63 247.68h4.18v2.02h-4.18zM490.63 197.76h4.18v2.02h-4.18zM494.70 247.68h4.18v2.02h-4.18zM494.70 241.92h4.18v2.02h-4.18zM494.70 192.00h4.18v2.02h-4.18zM498.78 247.68h4.18v2.02h-4.18zM502.86 245.76h4.18v3.94h-4.18zM506.94 241.92h4.18v3.94h-4.18zM511.01 243.84h4.18v2.02h-4.18zM511.01 240.00h4.18v2.02h-4.18zM511.01 195.84h4.18v2.02h-4.18zM511.01 192.00h4.18v2.02h-4.18zM515.09 238.08h4.18v2.02h-4.18zM519.17 238.08h4.18v2.02h-4.18zM523.24 240.00h4.18v2.02h-4.18zM523.24 180.48h4.18v2.02h-4.18zM527.32 240.00h4.18v2.02h-4.18zM527.32 180.48h4.18v2.02h-4.18zM531.40 184.32h4.18v3.94h-4.18zM535.48 184.32h4.18v3.94h-4.18z"/>
<path fill="#c600ff" d="M107.38 157.44h4.18v2.02h-4.18zM119.61 145.92h4.18v2.02h-4.18zM123.69 199.68h4.18v2.02h-4.18zM123.69 161.28h4.18v2.02h-4.18zM135.92 216.96h4.18v2.02h-4.18zM140.00 213.12h4.18v2.02h-4.18zM140.00 190.08h4.18v2.02h-4.18zM144.07 213.12h4.18v2.02h-4.18zM148.15 172.80h4.18v2.02h-4.18zM152.23 218.88h4.18v2.02h-4.18zM152.23 215.04h4.18v2.02h-4.18zM156.31 215.04h4.18v2.02h-4.18zM156.31 186.24h4.18v2.02h-4.18zM160.38 186.24h4.18v2.02h-4.18zM164.46 216.96h4.18v2.02h-4.18zM172.61 186.24h4.18v2.02h-4.18zM176.69 220.80h4.18v3.94h-4.18zM176.69 186.24h4.18v2.02h-4.18zM180.77 218.88h4.18v2.02h-4.18zM184.84 216.96h4.18v2.02h-4.18zM188.92 224.64h4.18v2.02h-4.18zM201.15 222.72h4.18v2.02h-4.18zM201.15 215.04h4.18v2.02h-4.18zM205.23 186.24h4.18v2.02h-4.18zM217.46 213.12h4.18v3.94h-4.18zM221.54 224.64h4.18v2.02h-4.18zM221.54 182.40h4.18v2.02h-4.18zM225.62 224.64h4.18v2.02h-4.18zM225.62 215.04h4.18v2.02h-4.18zM229.69 215.04h4.18v2.02h-4.18zM237.85 180.48h4.18v2.02h-4.18zM241.92 222.72h4.18v2.02h-4.18zM241.92 213.12h4.18v2.02h-4.18zM241.92 180.48h4.18v2.02h-4.18zM246.00 215.04h4.18v2.02h-4.18zM250.08 182.40h4.18v2.02h-4.18zM254.16 220.80h4.18v2.02h-4.18zM254.16 215.04h4.18v2.02h-4.18zM258.23 220.80h4.18v2.02h-4.18zM258.23 182.40h4.18v2.02h-4.18zM274.54 199.68h4.18v2.02h-4.18zM290.85 216.96h4.18v3.94h-4.18zM294.93 215.04h4.18v2.02h-4.18zM303.08 216.96h4.18v2.02h-4.18zM323.47 178.56h4.18v2.02h-4.18zM335.70 199.68h4.18v3.94h-4.18zM335.70 193.92h4.18v2.02h-4.18zM339.77 170.88h4.18v2.02h-4.18zM343.85 215.04h4.18v2.02h-4.18zM343.85 197.76h4.18v3.94h-4.18zM347.93 213.12h4.18v2.02h-4.18zM347.93 205.44h4.18v2.02h-4.18zM347.93 199.68h4.18v3.94h-4.18zM352.01 188.16h4.18v2.02h-4.18zM352.01 167.04h4.18v2.02h-4.18zM356.08 203.52h4.18v2.02h-4.18zM356.08 195.84h4.18v2.02h-4.18zM356.08 165.12h4.18v3.94h-4.18zM360.16 174.72h4.18v2.02h-4.18zM384.62 205.44h4.18v2.02h-4.18zM388.70 236.16h4.18v2.02h-4.18zM392.78 207.36h4.18v2.02h-4.18zM396.85 213.12h4.18v2.02h-4.18zM400.93 211.20h4.18v2.02h-4.18zM409.09 216.96h4.18v2.02h-4.18zM409.09 205.44h4.18v2.02h-4.18zM413.16 209.28h4.18v2.02h-4.18zM413.16 205.44h4.18v2.02h-4.18zM417.24 211.20h4.18v2.02h-4.18zM421.32 216.96h4.18v2.02h-4.18zM421.32 213.12h4.18v2.02h-4.18zM425.39 255.36h4.18v2.02h-4.18zM425.39 216.96h4.18v2.02h-4.18zM429.47 253.44h4.18v2.02h-4.18zM429.47 249.60h4.18v2.02h-4.18zM429.47 215.04h4.18v2.02h-4.18zM433.55 247.68h4.18v2.02h-4.18zM433.55 215.04h4.18v2.02h-4.18zM437.63 257.28h4.18v2.02h-4.18zM437.63 245.76h4.18v2.02h-4.18zM441.70 255.36h4.18v2.02h-4.18zM441.70 251.52h4.18v2.02h-4.18zM441.70 245.76h4.18v2.02h-4.18zM441.70 211.20h4.18v3.94h-4.18zM445.78 245.76h4.18v2.02h-4.18zM445.78 209.28h4.18v3.94h-4.18zM445.78 197.76h4.18v2.02h-4.18zM449.86 249.60h4.18v2.02h-4.18zM449.86 241.92h4.18v2.02h-4.18zM453.93 251.52h4.18v2.02h-4.18zM458.01 209.28h4.18v2.02h-4.18zM462.09 243.84h4.18v3.94h-4.18zM462.09 209.28h4.18v2.02h-4.18zM466.16 209.28h4.18v2.02h-4.18zM470.24 240.00h4.18v2.02h-4.18zM470.24 209.28h4.18v2.02h-4.18zM474.32 249.60h4.18v2.02h-4.18zM478.40 251.52h4.18v2.02h-4.18zM478.40 241.92h4.18v2.02h-4.18zM482.47 249.60h4.18v2.02h-4.18zM482.47 238.08h4.18v2.02h-4.18zM486.55 236.16h4.18v3.94h-4.18zM490.63 251.52h4.18v2.02h-4.18zM490.63 245.76h4.18v2.02h-4.18zM490.63 236.16h4.18v3.94h-4.18zM490.63 203.52h4.18v2.02h-4.18zM490.63 195.84h4.18v2.02h-4.18zM494.70 236.16h4.18v2.02h-4.18zM498.78 201.60h4.18v2.02h-4.18zM498.78 195.84h4.18v2.02h-4.18zM506.94 230.40h4.18v3.94h-4.18zM506.94 192.00h4.18v2.02h-4.18zM511.01 234.24h4.18v2.02h-4.18zM511.01 230.40h4.18v2.02h-4.18zM511.01 197.76h4.18v2.02h-4.18zM515.09 232.32h4.18v2.02h-4.18zM519.17 232.32h4.18v2.02h-4.18zM531.40 224.64h4.18v2.02h-4.18zM531.40 216.96h4.18v2.02h-4.18zM535.48 224.64h4.18v2.02h-4.18zM535.48 216.96h4.18v2.02h-4.18z"/>
<path fill="#ff2bff" d="M107.38 155.52h4.18v2.02h-4.18zM107.38 145.92h4.18v2.02h-4.18zM107.38 142.08h4.18v2.02h-4.18zM107.38 134.40h4.18v2.02h-4.18zM111.46 153.60h4.18v2.02h-4.18zM111.46 142.08h4.18v2.02h-4.18zM111.46 138.24h4.18v2.02h-4.18zM111.46 130.56h4.18v3.94h-4.18zM115.53 168.96h4.18v2.02h-4.18zM115.53 151.68h4.18v3.94h-4.18zM115.53 145.92h4.18v2.02h-4.18zM115.53 136.32h4.18v3.94h-4.18zM123.69 170.88h4.18v2.02h-4.18zM123.69 147.84h4.18v2.02h-4.18zM123.69 142.08h4.18v3.94h-4.18zM123.69 138.24h4.18v2.02h-4.18zM127.77 184.32h4.18v2.02h-4.18zM127.77 167.04h4.18v3.94h-4.18zM127.77 145.92h4.18v2.02h-4.18zM127.77 140.16h4.18v3.94h-4.18zM131.84 184.32h4.18v2.02h-4.18zM131.84 180.48h4.18v2.02h-4.18zM131.84 176.64h4.18v2.02h-4.18zM131.84 170.88h4.18v2.02h-4.18zM131.84 167.04h4.18v2.02h-4.18zM131.84 159.36h4.18v3.94h-4.18zM131.84 138.24h4.18v2.02h-4.18zM131.84 134.40h4.18v2.02h-4.18zM135.92 149.76h4.18v2.02h-4.18zM135.92 142.08h4.18v2.02h-4.18zM140.00 186.24h4.18v2.02h-4.18zM140.00 176.64h4.18v2.02h-4.18zM140.00 172.80h4.18v2.02h-4.18zM140.00 163.20h4.18v2.02h-4.18zM140.00 151.68h4.18v3.94h-4.18zM140.00 145.92h4.18v2.02h-4.18zM140.00 142.08h4.18v2.02h-4.18zM140.00 138.24h4.18v2.02h-4.18zM144.07 188.16h4.18v2.02h-4.18zM144.07 176.64h4.18v2.02h-4.18zM144.07 147.84h4.18v2.02h-4.18zM144.07 142.08h4.18v2.02h-4.18zM148.15 182.40h4.18v3.94h-4.18zM148.15 170.88h4.18v2.02h-4.18zM148.15 161.28h4.18v5.86h-4.18zM148.15 149.76h4.18v2.02h-4.18zM152.23 182.40h4.18v2.02h-4.18zM152.23 174.72h4.18v3.94h-4.18zM152.23 170.88h4.18v2.02h-4.18zM152.23 161.28h4.18v2.02h-4.18zM152.23 155.52h4.18v3.94h-4.18zM156.31 182.40h4.18v2.02h-4.18zM156.31 168.96h4.18v3.94h-4.18zM160.38 226.56h4.18v2.02h-4.18zM160.38 222.72h4.18v2.02h-4.18zM164.46 222.72h4.18v3.94h-4.18zM164.46 174.72h4.18v2.02h-4.18zM168.54 228.48h4.18v2.02h-4.18zM172.61 228.48h4.18v3.94h-4.18zM180.77 226.56h4.18v2.02h-4.18zM180.77 222.72h4.18v2.02h-4.18zM184.84 226.56h4.18v2.02h-4.18zM188.92 226.56h4.18v2.02h-4.18zM188.92 222.72h4.18v2.02h-4.18zM193.00 226.56h4.18v2.02h-4.18zM193.00 182.40h4.18v2.02h-4.18zM201.15 226.56h4.18v3.94h-4.18zM213.38 230.40h4.18v2.02h-4.18zM217.46 228.48h4.18v2.02h-4.18zM217.46 220.80h4.18v2.02h-4.18zM217.46 216.96h4.18v2.02h-4.18zM217.46 180.48h4.18v2.02h-4.18zM221.54 176.64h4.18v3.94h-4.18zM225.62 226.56h4.18v2.02h-4.18zM225.62 176.64h4.18v2.02h-4.18zM229.69 222.72h4.18v2.02h-4.18zM229.69 178.56h4.18v2.02h-4.18zM237.85 224.64h4.18v2.02h-4.18zM241.92 220.80h4.18v2.02h-4.18zM246.00 222.72h4.18v5.86h-4.18zM246.00 176.64h4.18v2.02h-4.18zM250.08 220.80h4.18v2.02h-4.18zM250.08 176.64h4.18v2.02h-4.18zM262.31 188.16h4.18v3.94h-4.18zM266.39 188.16h4.18v2.02h-4.18zM266.39 182.40h4.18v2.02h-4.18zM270.46 224.64h4.18v2.02h-4.18zM270.46 192.00h4.18v2.02h-4.18zM270.46 182.40h4.18v2.02h-4.18zM274.54 224.64h4.18v2.02h-4.18zM278.62 224.64h4.18v2.02h-4.18zM278.62 192.00h4.18v2.02h-4.18zM282.70 192.00h4.18v2.02h-4.18zM286.77 193.92h4.18v3.94h-4.18zM299.00 218.88h4.18v2.02h-4.18zM299.00 190.08h4.18v3.94h-4.18zM311.24 211.20h4.18v5.86h-4.18zM315.31 180.48h4.18v3.94h-4.18zM319.39 213.12h4.18v2.02h-4.18zM319.39 207.36h4.18v2.02h-4.18zM323.47 213.12h4.18v2.02h-4.18zM323.47 209.28h4.18v2.02h-4.18zM323.47 176.64h4.18v2.02h-4.18zM327.54 205.44h4.18v2.02h-4.18zM331.62 215.04h4.18v2.02h-4.18zM335.70 207.36h4.18v2.02h-4.18zM335.70 170.88h4.18v2.02h-4.18zM339.77 213.12h4.18v2.02h-4.18zM339.77 168.96h4.18v2.02h-4.18zM343.85 167.04h4.18v2.02h-4.18zM352.01 215.04h4.18v2.02h-4.18zM352.01 163.20h4.18v2.02h-4.18zM368.31 174.72h4.18v2.02h-4.18zM372.39 218.88h4.18v2.02h-4.18zM372.39 180.48h4.18v2.02h-4.18zM376.47 190.08h4.18v2.02h-4.18zM380.55 197.76h4.18v2.02h-4.18zM388.70 205.44h4.18v2.02h-4.18zM400.93 247.68h4.18v2.02h-4.18zM400.93 207.36h4.18v2.02h-4.18zM409.09 251.52h4.18v2.02h-4.18zM409.09 211.20h4.18v2.02h-4.18zM409.09 207.36h4.18v2.02h-4.18zM413.16 215.04h4.18v2.02h-4.18zM413.16 207.36h4.18v2.02h-4.18zM417.24 255.36h4.18v2.02h-4.18zM421.32 203.52h4.18v2.02h-4.18zM425.39 251.52h4.18v2.02h-4.18zM425.39 201.60h4.18v2.02h-4.18zM429.47 211.20h4.18v2.02h-4.18zM433.55 203.52h4.18v2.02h-4.18zM437.63 259.20h4.18v2.02h-4.18zM437.63 211.20h4.18v2.02h-4.18zM437.63 205.44h4.18v2.02h-4.18zM437.63 197.76h4.18v2.02h-4.18zM441.70 207.36h4.18v2.02h-4.18zM441.70 201.60h4.18v2.02h-4.18zM445.78 257.28h4.18v2.02h-4.18zM445.78 253.44h4.18v2.02h-4.18zM445.78 247.68h4.18v2.02h-4.18zM449.86 253.44h4.18v5.86h-4.18zM453.93 259.20h4.18v2.02h-4.18zM453.93 255.36h4.18v2.02h-4.18zM458.01 207.36h4.18v2.02h-4.18zM462.09 261.12h4.18v2.02h-4.18zM462.09 251.52h4.18v2.02h-4.18zM462.09 207.36h4.18v2.02h-4.18zM466.16 251.52h4.18v2.02h-4.18zM466.16 203.52h4.18v2.02h-4.18zM478.40 253.44h4.18v2.02h-4.18zM478.40 193.92h4.18v2.02h-4.18zM478.40 190.08h4.18v2.02h-4.18zM482.47 253.44h4.18v2.02h-4.18zM482.47 245.76h4.18v2.02h-4.18zM482.47 199.68h4.18v2.02h-4.18zM486.55 249.60h4.18v2.02h-4.18zM486.55 193.92h4.18v2.02h-4.18zM498.78 249.60h4.18v2.02h-4.18zM498.78 193.92h4.18v2.02h-4.18zM502.86 249.60h4.18v2.02h-4.18zM502.86 236.16h4.18v2.02h-4.18zM502.86 188.16h4.18v2.02h-4.18zM506.94 236.16h4.18v3.94h-4.18zM506.94 195.84h4.18v2.02h-4.18zM506.94 188.16h4.18v2.02h-4.18zM511.01 241.92h4.18v2.02h-4.18zM511.01 238.08h4.18v2.02h-4.18zM515.09 243.84h4.18v2.02h-4.18zM515.09 240.00h4.18v2.02h-4.18zM515.09 230.40h4.18v2.02h-4.18zM515.09 184.32h4.18v2.02h-4.18zM519.17 243.84h4.18v2.02h-4.18zM519.17 240.00h4.18v2.02h-4.18zM519.17 230.40h4.18v2.02h-4.18zM519.17 184.32h4.18v2.02h-4.18zM523.24 182.40h4.18v2.02h-4.18zM527.32 182.40h4.18v2.02h-4.18z"/>
<path fill="#ff00ff" d="M107.38 153.60h4.18v2.02h-4.18zM107.38 144.00h4.18v2.02h-4.18zM107.38 140.16h4.18v2.02h-4.18zM107.38 136.32h4.18v2.02h-4.18zM111.46 159.36h4.18v2.02h-4.18zM111.46 147.84h4.18v2.02h-4.18zM111.46 140.16h4.18v2.02h-4.18zM111.46 136.32h4.18v2.02h-4.18zM115.53 165.12h4.18v2.02h-4.18zM115.53 161.28h4.18v2.02h-4.18zM115.53 157.44h4.18v2.02h-4.18zM115.53 140.16h4.18v3.94h-4.18zM115.53 132.48h4.18v2.02h-4.18zM119.61 168.96h4.18v2.02h-4.18zM119.61 151.68h4.18v3.94h-4.18zM119.61 144.00h4.18v2.02h-4.18zM119.61 140.16h4.18v2.02h-4.18zM123.69 155.52h4.18v2.02h-4.18zM123.69 140.16h4.18v2.02h-4.18zM123.69 128.64h4.18v2.02h-4.18zM127.77 161.28h4.18v3.94h-4.18zM127.77 134.40h4.18v2.02h-4.18zM131.84 188.16h4.18v2.02h-4.18zM131.84 168.96h4.18v2.02h-4.18zM131.84 165.12h4.18v2.02h-4.18zM131.84 142.08h4.18v2.02h-4.18zM135.92 188.16h4.18v2.02h-4.18zM135.92 182.40h4.18v2.02h-4.18zM135.92 168.96h4.18v3.94h-4.18zM140.00 168.96h4.18v3.94h-4.18zM140.00 144.00h4.18v2.02h-4.18zM144.07 182.40h4.18v5.86h-4.18zM144.07 168.96h4.18v3.94h-4.18zM144.07 159.36h4.18v2.02h-4.18zM144.07 145.92h4.18v2.02h-4.18zM148.15 186.24h4.18v2.02h-4.18zM148.15 174.72h4.18v3.94h-4.18zM148.15 168.96h4.18v2.02h-4.18zM152.23 216.96h4.18v2.02h-4.18zM152.23 168.96h4.18v2.02h-4.18zM156.31 220.80h4.18v2.02h-4.18zM156.31 184.32h4.18v2.02h-4.18zM156.31 178.56h4.18v3.94h-4.18zM160.38 170.88h4.18v2.02h-4.18zM164.46 176.64h4.18v2.02h-4.18zM168.54 224.64h4.18v2.02h-4.18zM168.54 176.64h4.18v2.02h-4.18zM176.69 226.56h4.18v2.02h-4.18zM180.77 186.24h4.18v2.02h-4.18zM180.77 180.48h4.18v2.02h-4.18zM188.92 228.48h4.18v2.02h-4.18zM188.92 218.88h4.18v3.94h-4.18zM188.92 182.40h4.18v2.02h-4.18zM193.00 218.88h4.18v2.02h-4.18zM197.08 228.48h4.18v2.02h-4.18zM197.08 222.72h4.18v2.02h-4.18zM197.08 182.40h4.18v2.02h-4.18zM201.15 186.24h4.18v2.02h-4.18zM205.23 180.48h4.18v2.02h-4.18zM209.31 226.56h4.18v2.02h-4.18zM213.38 228.48h4.18v2.02h-4.18zM213.38 220.80h4.18v2.02h-4.18zM213.38 178.56h4.18v2.02h-4.18zM221.54 226.56h4.18v2.02h-4.18zM221.54 220.80h4.18v2.02h-4.18zM221.54 216.96h4.18v2.02h-4.18zM221.54 180.48h4.18v2.02h-4.18zM225.62 216.96h4.18v2.02h-4.18zM229.69 216.96h4.18v2.02h-4.18zM229.69 176.64h4.18v2.02h-4.18zM233.77 224.64h4.18v2.02h-4.18zM233.77 178.56h4.18v2.02h-4.18zM241.92 176.64h4.18v2.02h-4.18zM246.00 178.56h4.18v2.02h-4.18zM250.08 178.56h4.18v2.02h-4.18zM254.16 218.88h4.18v2.02h-4.18zM262.31 222.72h4.18v2.02h-4.18zM266.39 184.32h4.18v3.94h-4.18zM270.46 195.84h4.18v2.02h-4.18zM274.54 192.00h4.18v3.94h-4.18zM282.70 199.68h4.18v2.02h-4.18zM286.77 197.76h4.18v2.02h-4.18zM294.93 193.92h4.18v2.02h-4.18zM307.16 211.20h4.18v3.94h-4.18zM331.62 203.52h4.18v2.02h-4.18zM331.62 172.80h4.18v2.02h-4.18zM335.70 215.04h4.18v2.02h-4.18zM335.70 203.52h4.18v2.02h-4.18zM339.77 207.36h4.18v2.02h-4.18zM347.93 215.04h4.18v2.02h-4.18zM356.08 215.04h4.18v2.02h-4.18zM364.24 178.56h4.18v2.02h-4.18zM368.31 176.64h4.18v2.02h-4.18zM376.47 192.00h4.18v3.94h-4.18zM405.01 211.20h4.18v2.02h-4.18zM409.09 253.44h4.18v2.02h-4.18zM409.09 215.04h4.18v2.02h-4.18zM413.16 203.52h4.18v2.02h-4.18zM417.24 207.36h4.18v2.02h-4.18zM417.24 203.52h4.18v2.02h-4.18zM421.32 251.52h4.18v2.02h-4.18zM429.47 201.60h4.18v2.02h-4.18zM433.55 257.28h4.18v2.02h-4.18zM433.55 207.36h4.18v2.02h-4.18zM433.55 199.68h4.18v2.02h-4.18zM437.63 261.12h4.18v2.02h-4.18zM437.63 207.36h4.18v3.94h-4.18zM441.70 259.20h4.18v2.02h-4.18zM441.70 253.44h4.18v2.02h-4.18zM441.70 205.44h4.18v2.02h-4.18zM449.86 247.68h4.18v2.02h-4.18zM449.86 211.20h4.18v2.02h-4.18zM449.86 201.60h4.18v2.02h-4.18zM453.93 257.28h4.18v2.02h-4.18zM453.93 207.36h4.18v2.02h-4.18zM453.93 203.52h4.18v2.02h-4.18zM453.93 197.76h4.18v2.02h-4.18zM458.01 255.36h4.18v7.78h-4.18zM458.01 195.84h4.18v2.02h-4.18zM462.09 201.60h4.18v2.02h-4.18zM462.09 193.92h4.18v3.94h-4.18zM466.16 257.28h4.18v2.02h-4.18zM466.16 199.68h4.18v2.02h-4.18zM470.24 205.44h4.18v2.02h-4.18zM470.24 193.92h4.18v2.02h-4.18zM474.32 255.36h4.18v2.02h-4.18zM474.32 205.44h4.18v2.02h-4.18zM474.32 193.92h4.18v3.94h-4.18zM478.40 255.36h4.18v2.02h-4.18zM478.40 197.76h4.18v2.02h-4.18zM482.47 241.92h4.18v2.02h-4.18zM482.47 197.76h4.18v2.02h-4.18zM486.55 203.52h4.18v2.02h-4.18zM490.63 193.92h4.18v2.02h-4.18zM494.70 251.52h4.18v2.02h-4.18zM498.78 238.08h4.18v2.02h-4.18zM498.78 188.16h4.18v2.02h-4.18zM502.86 243.84h4.18v2.02h-4.18zM502.86 238.08h4.18v2.02h-4.18zM502.86 195.84h4.18v3.94h-4.18zM511.01 186.24h4.18v3.94h-4.18zM523.24 230.40h4.18v3.94h-4.18zM527.32 230.40h4.18v3.94h-4.18zM531.40 230.40h4.18v3.94h-4.18zM531.40 180.48h4.18v2.02h-4.18zM535.48 230.40h4.18v3.94h-4.18zM535.48 180.48h4.18v2.02h-4.18z"/>
<path fill="#d400ff" d="M107.38 151.68h4.18v2.02h-4.18zM111.46 155.52h4.18v2.02h-4.18zM115.53 170.88h4.18v2.02h-4.18zM119.61 170.88h4.18v2.02h-4.18zM119.61 155.52h4.18v2.02h-4.18zM123.69 159.36h4.18v2.02h-4.18zM123.69 151.68h4.18v2.02h-4.18zM144.07 153.60h4.18v2.02h-4.18zM148.15 216.96h4.18v3.94h-4.18zM148.15 188.16h4.18v2.02h-4.18zM148.15 153.60h4.18v2.02h-4.18zM156.31 216.96h4.18v2.02h-4.18zM160.38 216.96h4.18v2.02h-4.18zM160.38 182.40h4.18v2.02h-4.18zM164.46 220.80h4.18v2.02h-4.18zM164.46 178.56h4.18v3.94h-4.18zM168.54 222.72h4.18v2.02h-4.18zM168.54 218.88h4.18v2.02h-4.18zM168.54 182.40h4.18v2.02h-4.18zM172.61 178.56h4.18v2.02h-4.18zM176.69 224.64h4.18v2.02h-4.18zM176.69 218.88h4.18v2.02h-4.18zM176.69 184.32h4.18v2.02h-4.18zM180.77 220.80h4.18v2.02h-4.18zM188.92 186.24h4.18v2.02h-4.18zM193.00 220.80h4.18v2.02h-4.18zM197.08 224.64h4.18v2.02h-4.18zM197.08 218.88h4.18v2.02h-4.18zM201.15 216.96h4.18v2.02h-4.18zM201.15 182.40h4.18v2.02h-4.18zM213.38 224.64h4.18v2.02h-4.18zM225.62 220.80h4.18v2.02h-4.18zM233.77 215.04h4.18v2.02h-4.18zM237.85 220.80h4.18v2.02h-4.18zM237.85 178.56h4.18v2.02h-4.18zM241.92 178.56h4.18v2.02h-4.18zM250.08 180.48h4.18v2.02h-4.18zM258.23 218.88h4.18v2.02h-4.18zM262.31 192.00h4.18v2.02h-4.18zM266.39 222.72h4.18v2.02h-4.18zM270.46 197.76h4.18v2.02h-4.18zM270.46 186.24h4.18v2.02h-4.18zM282.70 193.92h4.18v2.02h-4.18zM311.24 209.28h4.18v2.02h-4.18zM323.47 199.68h4.18v5.86h-4.18zM327.54 199.68h4.18v2.02h-4.18zM331.62 199.68h4.18v3.94h-4.18zM339.77 209.28h4.18v2.02h-4.18zM343.85 213.12h4.18v2.02h-4.18zM343.85 207.36h4.18v2.02h-4.18zM343.85 203.52h4.18v2.02h-4.18zM347.93 167.04h4.18v2.02h-4.18zM352.01 201.60h4.18v2.02h-4.18zM352.01 165.12h4.18v2.02h-4.18zM364.24 215.04h4.18v2.02h-4.18zM364.24 172.80h4.18v2.02h-4.18zM368.31 178.56h4.18v3.94h-4.18zM384.62 201.60h4.18v2.02h-4.18zM392.78 241.92h4.18v2.02h-4.18zM396.85 243.84h4.18v2.02h-4.18zM400.93 245.76h4.18v2.02h-4.18zM400.93 216.96h4.18v2.02h-4.18zM405.01 215.04h4.18v3.94h-4.18zM405.01 205.44h4.18v2.02h-4.18zM409.09 213.12h4.18v2.02h-4.18zM417.24 251.52h4.18v2.02h-4.18zM417.24 209.28h4.18v2.02h-4.18zM417.24 205.44h4.18v2.02h-4.18zM421.32 247.68h4.18v2.02h-4.18zM421.32 209.28h4.18v2.02h-4.18zM421.32 205.44h4.18v2.02h-4.18zM425.39 253.44h4.18v2.02h-4.18zM425.39 213.12h4.18v2.02h-4.18zM425.39 205.44h4.18v2.02h-4.18zM429.47 255.36h4.18v2.02h-4.18zM433.55 261.12h4.18v2.02h-4.18zM433.55 251.52h4.18v2.02h-4.18zM433.55 213.12h4.18v2.02h-4.18zM441.70 197.76h4.18v3.94h-4.18zM445.78 249.60h4.18v2.02h-4.18zM445.78 199.68h4.18v2.02h-4.18zM449.86 209.28h4.18v2.02h-4.18zM453.93 201.60h4.18v2.02h-4.18zM462.09 249.60h4.18v2.02h-4.18zM462.09 203.52h4.18v2.02h-4.18zM466.16 249.60h4.18v2.02h-4.18zM466.16 243.84h4.18v2.02h-4.18zM466.16 205.44h4.18v3.94h-4.18zM470.24 247.68h4.18v2.02h-4.18zM470.24 243.84h4.18v2.02h-4.18zM474.32 243.84h4.18v2.02h-4.18zM474.32 192.00h4.18v2.02h-4.18zM478.40 195.84h4.18v2.02h-4.18zM494.70 245.76h4.18v2.02h-4.18zM494.70 199.68h4.18v2.02h-4.18zM494.70 190.08h4.18v2.02h-4.18zM498.78 245.76h4.18v2.02h-4.18zM498.78 236.16h4.18v2.02h-4.18zM498.78 192.00h4.18v2.02h-4.18zM502.86 241.92h4.18v2.02h-4.18zM515.09 190.08h4.18v2.02h-4.18zM519.17 190.08h4.18v2.02h-4.18zM523.24 234.24h4.18v3.94h-4.18zM523.24 228.48h4.18v2.02h-4.18zM523.24 193.92h4.18v2.02h-4.18zM523.24 188.16h4.18v2.02h-4.18zM527.32 234.24h4.18v3.94h-4.18zM527.32 228.48h4.18v2.02h-4.18zM527.32 193.92h4.18v2.02h-4.18zM527.32 188.16h4.18v2.02h-4.18z"/>
<path fill="#ff80ff" d="M107.38 149.76h4.18v2.02h-4.18zM115.53 195.84h4.18v2.02h-4.18zM115.53 149.76h4.18v2.02h-4.18zM123.69 157.44h4.18v2.02h-4.18zM123.69 149.76h4.18v2.02h-4.18zM123.69 136.32h4.18v2.02h-4.18zM123.69 130.56h4.18v2.02h-4.18zM127.77 182.40h4.18v2.02h-4.18zM127.77 157.44h4.18v2.02h-4.18zM127.77 147.84h4.18v3.94h-4.18zM127.77 144.00h4.18v2.02h-4.18zM127.77 136.32h4.18v3.94h-4.18zM127.77 130.56h4.18v2.02h-4.18zM131.84 155.52h4.18v2.02h-4.18zM135.92 174.72h4.18v2.02h-4.18zM135.92 159.36h4.18v2.02h-4.18zM135.92 155.52h4.18v2.02h-4.18zM135.92 151.68h4.18v2.02h-4.18zM135.92 147.84h4.18v2.02h-4.18zM135.92 140.16h4.18v2.02h-4.18zM140.00 180.48h4.18v2.02h-4.18zM140.00 174.72h4.18v2.02h-4.18zM140.00 165.12h4.18v2.02h-4.18zM140.00 147.84h4.18v2.02h-4.18zM140.00 140.16h4.18v2.02h-4.18zM144.07 220.80h4.18v2.02h-4.18zM144.07 180.48h4.18v2.02h-4.18zM144.07 157.44h4.18v2.02h-4.18zM144.07 144.00h4.18v2.02h-4.18zM148.15 178.56h4.18v3.94h-4.18zM148.15 167.04h4.18v2.02h-4.18zM148.15 157.44h4.18v2.02h-4.18zM148.15 151.68h4.18v2.02h-4.18zM152.23 222.72h4.18v2.02h-4.18zM152.23 178.56h4.18v3.94h-4.18zM152.23 167.04h4.18v2.02h-4.18zM152.23 163.20h4.18v2.02h-4.18zM152.23 159.36h4.18v2.02h-4.18zM156.31 224.64h4.18v2.02h-4.18zM156.31 165.12h4.18v2.02h-4.18zM172.61 232.32h4.18v2.02h-4.18zM180.77 232.32h4.18v2.02h-4.18zM180.77 228.48h4.18v2.02h-4.18zM184.84 232.32h4.18v2.02h-4.18zM184.84 180.48h4.18v2.02h-4.18zM188.92 230.40h4.18v3.94h-4.18zM188.92 180.48h4.18v2.02h-4.18zM205.23 230.40h4.18v2.02h-4.18zM217.46 176.64h4.18v2.02h-4.18zM221.54 228.48h4.18v2.02h-4.18zM229.69 226.56h4.18v2.02h-4.18zM233.77 222.72h4.18v2.02h-4.18zM246.00 220.80h4.18v2.02h-4.18zM254.16 222.72h4.18v3.94h-4.18zM254.16 176.64h4.18v2.02h-4.18zM258.23 180.48h4.18v2.02h-4.18zM278.62 190.08h4.18v2.02h-4.18zM278.62 184.32h4.18v2.02h-4.18zM282.70 188.16h4.18v3.94h-4.18zM286.77 192.00h4.18v2.02h-4.18zM286.77 188.16h4.18v2.02h-4.18zM290.85 193.92h4.18v2.02h-4.18zM290.85 190.08h4.18v2.02h-4.18zM303.08 218.88h4.18v2.02h-4.18zM311.24 216.96h4.18v2.02h-4.18zM315.31 211.20h4.18v2.02h-4.18zM319.39 178.56h4.18v2.02h-4.18zM327.54 207.36h4.18v2.02h-4.18zM331.62 209.28h4.18v2.02h-4.18zM339.77 215.04h4.18v2.02h-4.18zM368.31 216.96h4.18v2.02h-4.18zM376.47 224.64h4.18v2.02h-4.18zM388.70 238.08h4.18v2.02h-4.18zM392.78 205.44h4.18v2.02h-4.18zM400.93 203.52h4.18v2.02h-4.18zM409.09 203.52h4.18v2.02h-4.18zM413.16 255.36h4.18v2.02h-4.18zM413.16 201.60h4.18v2.02h-4.18zM417.24 257.28h4.18v2.02h-4.18zM417.24 201.60h4.18v2.02h-4.18zM421.32 259.20h4.18v2.02h-4.18zM425.39 259.20h4.18v3.94h-4.18zM429.47 257.28h4.18v3.94h-4.18zM433.55 263.04h4.18v2.02h-4.18zM433.55 259.20h4.18v2.02h-4.18zM437.63 263.04h4.18v2.02h-4.18zM445.78 264.96h4.18v2.02h-4.18zM445.78 207.36h4.18v2.02h-4.18zM449.86 259.20h4.18v5.86h-4.18zM453.93 264.96h4.18v2.02h-4.18zM458.01 193.92h4.18v2.02h-4.18zM462.09 264.96h4.18v2.02h-4.18zM466.16 259.20h4.18v2.02h-4.18zM470.24 259.20h4.18v2.02h-4.18zM470.24 203.52h4.18v2.02h-4.18zM474.32 257.28h4.18v2.02h-4.18zM486.55 257.28h4.18v2.02h-4.18zM490.63 255.36h4.18v2.02h-4.18zM490.63 188.16h4.18v2.02h-4.18zM498.78 253.44h4.18v2.02h-4.18zM498.78 186.24h4.18v2.02h-4.18zM502.86 251.52h4.18v2.02h-4.18zM502.86 186.24h4.18v2.02h-4.18zM506.94 190.08h4.18v2.02h-4.18zM506.94 184.32h4.18v2.02h-4.18zM511.01 245.76h4.18v2.02h-4.18zM515.09 245.76h4.18v2.02h-4.18zM515.09 180.48h4.18v3.94h-4.18zM519.17 245.76h4.18v2.02h-4.18zM519.17 180.48h4.18v3.94h-4.18zM531.40 176.64h4.18v2.02h-4.18zM535.48 176.64h4.18v2.02h-4.18z"/>
<path fill="#e300ff" d="M107.38 147.84h4.18v2.02h-4.18zM111.46 168.96h4.18v2.02h-4.18zM111.46 165.12h4.18v2.02h-4.18zM111.46 151.68h4.18v2.02h-4.18zM119.61 161.28h4.18v3.94h-4.18zM119.61 147.84h4.18v2.02h-4.18zM119.61 134.40h4.18v2.02h-4.18zM123.69 168.96h4.18v2.02h-4.18zM123.69 145.92h4.18v2.02h-4.18zM127.77 159.36h4.18v2.02h-4.18zM131.84 216.96h4.18v2.02h-4.18zM135.92 184.32h4.18v2.02h-4.18zM140.00 184.32h4.18v2.02h-4.18zM140.00 167.04h4.18v2.02h-4.18zM152.23 186.24h4.18v2.02h-4.18zM160.38 184.32h4.18v2.02h-4.18zM160.38 180.48h4.18v2.02h-4.18zM160.38 172.80h4.18v2.02h-4.18zM164.46 186.24h4.18v2.02h-4.18zM168.54 226.56h4.18v2.02h-4.18zM168.54 184.32h4.18v2.02h-4.18zM176.69 180.48h4.18v2.02h-4.18zM193.00 186.24h4.18v2.02h-4.18zM197.08 232.32h4.18v2.02h-4.18zM201.15 232.32h4.18v2.02h-4.18zM205.23 222.72h4.18v2.02h-4.18zM205.23 216.96h4.18v2.02h-4.18zM205.23 182.40h4.18v2.02h-4.18zM209.31 222.72h4.18v2.02h-4.18zM209.31 216.96h4.18v2.02h-4.18zM209.31 182.40h4.18v2.02h-4.18zM213.38 226.56h4.18v2.02h-4.18zM213.38 216.96h4.18v2.02h-4.18zM213.38 184.32h4.18v2.02h-4.18zM217.46 224.64h4.18v2.02h-4.18zM221.54 222.72h4.18v2.02h-4.18zM221.54 218.88h4.18v2.02h-4.18zM225.62 218.88h4.18v2.02h-4.18zM225.62 180.48h4.18v2.02h-4.18zM229.69 224.64h4.18v2.02h-4.18zM237.85 215.04h4.18v2.02h-4.18zM241.92 215.04h4.18v2.02h-4.18zM246.00 218.88h4.18v2.02h-4.18zM258.23 186.24h4.18v2.02h-4.18zM278.62 193.92h4.18v2.02h-4.18zM290.85 195.84h4.18v2.02h-4.18zM294.93 218.88h4.18v2.02h-4.18zM299.00 215.04h4.18v3.94h-4.18zM319.39 180.48h4.18v2.02h-4.18zM323.47 215.04h4.18v2.02h-4.18zM327.54 215.04h4.18v2.02h-4.18zM331.62 205.44h4.18v2.02h-4.18zM331.62 174.72h4.18v2.02h-4.18zM335.70 205.44h4.18v2.02h-4.18zM339.77 205.44h4.18v2.02h-4.18zM343.85 205.44h4.18v2.02h-4.18zM356.08 201.60h4.18v2.02h-4.18zM360.16 215.04h4.18v2.02h-4.18zM372.39 182.40h4.18v3.94h-4.18zM380.55 199.68h4.18v2.02h-4.18zM388.70 203.52h4.18v2.02h-4.18zM392.78 203.52h4.18v2.02h-4.18zM396.85 207.36h4.18v2.02h-4.18zM405.01 249.60h4.18v2.02h-4.18zM409.09 209.28h4.18v2.02h-4.18zM413.16 253.44h4.18v2.02h-4.18zM417.24 253.44h4.18v2.02h-4.18zM417.24 213.12h4.18v2.02h-4.18zM421.32 253.44h4.18v3.94h-4.18zM421.32 249.60h4.18v2.02h-4.18zM421.32 215.04h4.18v2.02h-4.18zM425.39 247.68h4.18v3.94h-4.18zM425.39 215.04h4.18v2.02h-4.18zM425.39 207.36h4.18v3.94h-4.18zM429.47 251.52h4.18v2.02h-4.18zM429.47 247.68h4.18v2.02h-4.18zM429.47 209.28h4.18v2.02h-4.18zM429.47 205.44h4.18v2.02h-4.18zM433.55 253.44h4.18v3.94h-4.18zM433.55 209.28h4.18v2.02h-4.18zM437.63 203.52h4.18v2.02h-4.18zM437.63 199.68h4.18v2.02h-4.18zM441.70 257.28h4.18v2.02h-4.18zM441.70 249.60h4.18v2.02h-4.18zM445.78 255.36h4.18v2.02h-4.18zM445.78 251.52h4.18v2.02h-4.18zM449.86 203.52h4.18v3.94h-4.18zM449.86 199.68h4.18v2.02h-4.18zM453.93 209.28h4.18v3.94h-4.18zM453.93 205.44h4.18v2.02h-4.18zM458.01 199.68h4.18v3.94h-4.18zM462.09 247.68h4.18v2.02h-4.18zM462.09 205.44h4.18v2.02h-4.18zM462.09 197.76h4.18v3.94h-4.18zM466.16 245.76h4.18v3.94h-4.18zM466.16 201.60h4.18v2.02h-4.18zM466.16 195.84h4.18v2.02h-4.18zM470.24 199.68h4.18v2.02h-4.18zM470.24 192.00h4.18v2.02h-4.18zM474.32 253.44h4.18v2.02h-4.18zM478.40 243.84h4.18v3.94h-4.18zM478.40 203.52h4.18v2.02h-4.18zM482.47 247.68h4.18v2.02h-4.18zM482.47 195.84h4.18v2.02h-4.18zM482.47 190.08h4.18v2.02h-4.18zM486.55 243.84h4.18v2.02h-4.18zM486.55 240.00h4.18v2.02h-4.18zM486.55 197.76h4.18v3.94h-4.18zM486.55 190.08h4.18v3.94h-4.18zM490.63 241.92h4.18v2.02h-4.18zM490.63 190.08h4.18v3.94h-4.18zM494.70 238.08h4.18v2.02h-4.18zM498.78 241.92h4.18v3.94h-4.18zM498.78 199.68h4.18v2.02h-4.18zM498.78 190.08h4.18v2.02h-4.18zM506.94 197.76h4.18v2.02h-4.18zM515.09 234.24h4.18v2.02h-4.18zM515.09 192.00h4.18v2.02h-4.18zM515.09 186.24h4.18v3.94h-4.18zM519.17 234.24h4.18v2.02h-4.18zM519.17 192.00h4.18v2.02h-4.18zM519.17 186.24h4.18v3.94h-4.18zM523.24 190.08h4.18v3.94h-4.18zM523.24 184.32h4.18v2.02h-4.18zM527.32 190.08h4.18v3.94h-4.18zM527.32 184.32h4.18v2.02h-4.18zM531.40 188.16h4.18v2.02h-4.18zM535.48 188.16h4.18v2.02h-4.18z"/>
<path fill="#ffd4ff" d="M107.38 132.48h4.18v2.02h-4.18zM111.46 128.64h4.18v2.02h-4.18zM127.77 132.48h4.18v2.02h-4.18zM131.84 130.56h4.18v2.02h-4.18zM135.92 132.48h4.18v2.02h-4.18zM156.31 161.28h4.18v2.02h-4.18zM160.38 167.04h4.18v2.02h-4.18zM164.46 170.88h4.18v2.02h-4.18zM168.54 230.40h4.18v3.94h-4.18zM168.54 172.80h4.18v2.02h-4.18zM172.61 176.64h4.18v2.02h-4.18zM172.61 168.96h4.18v2.02h-4.18zM176.69 174.72h4.18v2.02h-4.18zM180.77 176.64h4.18v3.94h-4.18zM180.77 172.80h4.18v2.02h-4.18zM184.84 230.40h4.18v2.02h-4.18zM184.84 178.56h4.18v2.02h-4.18zM184.84 174.72h4.18v2.02h-4.18zM188.92 234.24h4.18v2.02h-4.18zM188.92 174.72h4.18v5.86h-4.18zM188.92 165.12h4.18v2.02h-4.18zM193.00 234.24h4.18v2.02h-4.18zM193.00 172.80h4.18v3.94h-4.18zM197.08 234.24h4.18v2.02h-4.18zM197.08 174.72h4.18v2.02h-4.18zM201.15 234.24h4.18v2.02h-4.18zM201.15 170.88h4.18v5.86h-4.18zM205.23 234.24h4.18v2.02h-4.18zM205.23 176.64h4.18v2.02h-4.18zM205.23 170.88h4.18v3.94h-4.18zM205.23 153.60h4.18v2.02h-4.18zM209.31 172.80h4.18v3.94h-4.18zM209.31 151.68h4.18v2.02h-4.18zM213.38 176.64h4.18v2.02h-4.18zM213.38 168.96h4.18v2.02h-4.18zM213.38 165.12h4.18v2.02h-4.18zM217.46 230.40h4.18v2.02h-4.18zM217.46 172.80h4.18v3.94h-4.18zM221.54 170.88h4.18v3.94h-4.18zM221.54 163.20h4.18v2.02h-4.18zM221.54 149.76h4.18v2.02h-4.18zM225.62 168.96h4.18v5.86h-4.18zM229.69 172.80h4.18v3.94h-4.18zM229.69 168.96h4.18v2.02h-4.18zM233.77 228.48h4.18v2.02h-4.18zM233.77 172.80h4.18v3.94h-4.18zM233.77 161.28h4.18v2.02h-4.18zM237.85 228.48h4.18v2.02h-4.18zM237.85 170.88h4.18v5.86h-4.18zM241.92 228.48h4.18v2.02h-4.18zM241.92 170.88h4.18v2.02h-4.18zM241.92 165.12h4.18v2.02h-4.18zM241.92 149.76h4.18v2.02h-4.18zM246.00 172.80h4.18v3.94h-4.18zM246.00 153.60h4.18v2.02h-4.18zM250.08 170.88h4.18v2.02h-4.18zM254.16 174.72h4.18v2.02h-4.18zM254.16 170.88h4.18v2.02h-4.18zM254.16 167.04h4.18v2.02h-4.18zM258.23 168.96h4.18v3.94h-4.18zM262.31 174.72h4.18v5.86h-4.18zM262.31 168.96h4.18v2.02h-4.18zM262.31 165.12h4.18v2.02h-4.18zM262.31 159.36h4.18v2.02h-4.18zM266.39 180.48h4.18v2.02h-4.18zM266.39 176.64h4.18v2.02h-4.18zM270.46 174.72h4.18v5.86h-4.18zM270.46 163.20h4.18v2.02h-4.18zM270.46 157.44h4.18v2.02h-4.18zM274.54 170.88h4.18v9.70h-4.18zM274.54 167.04h4.18v2.02h-4.18zM274.54 163.20h4.18v2.02h-4.18zM278.62 226.56h4.18v2.02h-4.18zM278.62 176.64h4.18v7.78h-4.18zM278.62 170.88h4.18v3.94h-4.18zM282.70 184.32h4.18v2.02h-4.18zM282.70 178.56h4.18v2.02h-4.18zM282.70 170.88h4.18v2.02h-4.18zM282.70 151.68h4.18v2.02h-4.18zM286.77 176.64h4.18v3.94h-4.18zM286.77 155.52h4.18v2.02h-4.18zM290.85 222.72h4.18v2.02h-4.18zM290.85 188.16h4.18v2.02h-4.18zM290.85 180.48h4.18v5.86h-4.18zM290.85 174.72h4.18v2.02h-4.18zM290.85 170.88h4.18v2.02h-4.18zM290.85 149.76h4.18v2.02h-4.18zM294.93 188.16h4.18v3.94h-4.18zM294.93 182.40h4.18v3.94h-4.18zM299.00 186.24h4.18v2.02h-4.18zM299.00 180.48h4.18v3.94h-4.18zM299.00 176.64h4.18v2.02h-4.18zM299.00 168.96h4.18v2.02h-4.18zM299.00 157.44h4.18v2.02h-4.18zM303.08 184.32h4.18v3.94h-4.18zM303.08 176.64h4.18v5.86h-4.18zM307.16 182.40h4.18v2.02h-4.18zM307.16 178.56h4.18v2.02h-4.18zM307.16 172.80h4.18v2.02h-4.18zM311.24 178.56h4.18v2.02h-4.18zM311.24 170.88h4.18v5.86h-4.18zM315.31 178.56h4.18v2.02h-4.18zM315.31 174.72h4.18v2.02h-4.18zM315.31 163.20h4.18v2.02h-4.18zM319.39 216.96h4.18v2.02h-4.18zM319.39 172.80h4.18v2.02h-4.18zM319.39 165.12h4.18v2.02h-4.18zM323.47 172.80h4.18v2.02h-4.18zM323.47 168.96h4.18v2.02h-4.18zM327.54 209.28h4.18v2.02h-4.18zM327.54 172.80h4.18v2.02h-4.18zM327.54 168.96h4.18v2.02h-4.18zM327.54 163.20h4.18v2.02h-4.18zM327.54 149.76h4.18v2.02h-4.18zM331.62 168.96h4.18v2.02h-4.18zM335.70 168.96h4.18v2.02h-4.18zM335.70 165.12h4.18v2.02h-4.18zM343.85 163.20h4.18v2.02h-4.18zM352.01 161.28h4.18v2.02h-4.18zM372.39 176.64h4.18v2.02h-4.18zM380.55 190.08h4.18v2.02h-4.18zM384.62 193.92h4.18v3.94h-4.18zM392.78 243.84h4.18v2.02h-4.18zM392.78 197.76h4.18v3.94h-4.18zM396.85 199.68h4.18v3.94h-4.18zM400.93 199.68h4.18v2.02h-4.18zM405.01 201.60h4.18v2.02h-4.18zM409.09 255.36h4.18v2.02h-4.18zM417.24 259.20h4.18v2.02h-4.18zM417.24 199.68h4.18v2.02h-4.18zM421.32 261.12h4.18v2.02h-4.18zM421.32 199.68h4.18v2.02h-4.18zM429.47 261.12h4.18v2.02h-4.18zM429.47 195.84h4.18v3.94h-4.18zM437.63 264.96h4.18v2.02h-4.18zM437.63 195.84h4.18v2.02h-4.18zM441.70 266.88h4.18v2.02h-4.18zM441.70 193.92h4.18v2.02h-4.18zM445.78 266.88h4.18v2.02h-4.18zM445.78 192.00h4.18v2.02h-4.18zM445.78 188.16h4.18v2.02h-4.18zM449.86 266.88h4.18v2.02h-4.18zM449.86 193.92h4.18v2.02h-4.18zM453.93 268.80h4.18v2.02h-4.18zM453.93 193.92h4.18v2.02h-4.18zM458.01 266.88h4.18v3.94h-4.18zM458.01 263.04h4.18v2.02h-4.18zM458.01 190.08h4.18v3.94h-4.18zM462.09 266.88h4.18v3.94h-4.18zM462.09 190.08h4.18v3.94h-4.18zM466.16 190.08h4.18v2.02h-4.18zM470.24 264.96h4.18v2.02h-4.18zM474.32 190.08h4.18v2.02h-4.18zM478.40 261.12h4.18v2.02h-4.18zM478.40 188.16h4.18v2.02h-4.18zM482.47 186.24h4.18v2.02h-4.18zM486.55 184.32h4.18v2.02h-4.18zM494.70 168.96h4.18v2.02h-4.18zM498.78 182.40h4.18v3.94h-4.18zM502.86 182.40h4.18v2.02h-4.18zM506.94 255.36h4.18v2.02h-4.18zM506.94 182.40h4.18v2.02h-4.18zM511.01 253.44h4.18v2.02h-4.18zM511.01 182.40h4.18v2.02h-4.18zM515.09 249.60h4.18v3.94h-4.18zM519.17 249.60h4.18v3.94h-4.18zM523.24 247.68h4.18v2.02h-4.18zM523.24 172.80h4.18v2.02h-4.18zM527.32 247.68h4.18v2.02h-4.18zM527.32 172.80h4.18v2.02h-4.18zM531.40 243.84h4.18v2.02h-4.18zM531.40 174.72h4.18v2.02h-4.18zM535.48 243.84h4.18v2.02h-4.18zM535.48 174.72h4.18v2.02h-4.18z"/>
<path fill="#00bfff" d="M111.46 190.08h4.18v2.02h-4.18zM274.54 211.20h4.18v2.02h-4.18zM282.70 211.20h4.18v2.02h-4.18zM290.85 207.36h4.18v2.02h-4.18zM315.31 188.16h4.18v2.02h-4.18zM335.70 178.56h4.18v2.02h-4.18zM372.39 205.44h4.18v2.02h-4.18zM376.47 209.28h4.18v2.02h-4.18zM380.55 216.96h4.18v2.02h-4.18z"/>
<path fill="#00aaff" d="M111.46 188.16h4.18v2.02h-4.18zM246.00 190.08h4.18v2.02h-4.18zM266.39 207.36h4.18v2.02h-4.18zM270.46 211.20h4.18v3.94h-4.18zM278.62 213.12h4.18v2.02h-4.18zM294.93 205.44h4.18v2.02h-4.18zM294.93 199.68h4.18v2.02h-4.18zM327.54 188.16h4.18v2.02h-4.18zM343.85 176.64h4.18v2.02h-4.18zM376.47 211.20h4.18v2.02h-4.18zM384.62 218.88h4.18v3.94h-4.18z"/>
<path fill="#004aff" d="M111.46 186.24h4.18v2.02h-4.18zM119.61 192.00h4.18v2.02h-4.18zM119.61 188.16h4.18v2.02h-4.18zM160.38 195.84h4.18v2.02h-4.18zM180.77 199.68h4.18v2.02h-4.18zM184.84 199.68h4.18v2.02h-4.18zM254.16 193.92h4.18v2.02h-4.18zM286.77 211.20h4.18v2.02h-4.18zM315.31 195.84h4.18v2.02h-4.18zM347.93 172.80h4.18v2.02h-4.18zM364.24 188.16h4.18v2.02h-4.18zM368.31 195.84h4.18v3.94h-4.18zM384.62 215.04h4.18v2.02h-4.18zM392.78 224.64h4.18v2.02h-4.18z"/>
<path fill="#0015ff" d="M111.46 184.32h4.18v2.02h-4.18zM123.69 188.16h4.18v2.02h-4.18zM131.84 201.60h4.18v2.02h-4.18zM135.92 201.60h4.18v3.94h-4.18zM140.00 201.60h4.18v3.94h-4.18zM144.07 203.52h4.18v2.02h-4.18zM144.07 199.68h4.18v2.02h-4.18zM152.23 205.44h4.18v2.02h-4.18zM176.69 201.60h4.18v2.02h-4.18zM184.84 201.60h4.18v3.94h-4.18zM184.84 192.00h4.18v2.02h-4.18zM197.08 193.92h4.18v2.02h-4.18zM201.15 193.92h4.18v2.02h-4.18zM205.23 193.92h4.18v2.02h-4.18zM209.31 205.44h4.18v3.94h-4.18zM209.31 193.92h4.18v2.02h-4.18zM213.38 207.36h4.18v2.02h-4.18zM217.46 203.52h4.18v2.02h-4.18zM217.46 195.84h4.18v2.02h-4.18zM221.54 203.52h4.18v2.02h-4.18zM221.54 195.84h4.18v3.94h-4.18zM233.77 186.24h4.18v2.02h-4.18zM237.85 193.92h4.18v3.94h-4.18zM241.92 195.84h4.18v2.02h-4.18zM246.00 186.24h4.18v2.02h-4.18zM250.08 195.84h4.18v2.02h-4.18zM250.08 188.16h4.18v2.02h-4.18zM254.16 197.76h4.18v2.02h-4.18zM254.16 190.08h4.18v2.02h-4.18zM258.23 203.52h4.18v2.02h-4.18zM262.31 209.28h4.18v2.02h-4.18zM262.31 199.68h4.18v3.94h-4.18zM266.39 215.04h4.18v2.02h-4.18zM270.46 216.96h4.18v2.02h-4.18zM278.62 205.44h4.18v2.02h-4.18zM299.00 195.84h4.18v2.02h-4.18zM347.93 176.64h4.18v2.02h-4.18zM352.01 176.64h4.18v2.02h-4.18zM356.08 174.72h4.18v2.02h-4.18zM364.24 195.84h4.18v2.02h-4.18zM368.31 209.28h4.18v2.02h-4.18zM388.70 228.48h4.18v2.02h-4.18zM392.78 222.72h4.18v2.02h-4.18zM396.85 224.64h4.18v3.94h-4.18zM400.93 234.24h4.18v2.02h-4.18zM405.01 232.32h4.18v2.02h-4.18zM409.09 230.40h4.18v2.02h-4.18zM413.16 226.56h4.18v2.02h-4.18z"/>
<path fill="#6300ff" d="M111.46 174.72h4.18v2.02h-4.18zM123.69 176.64h4.18v2.02h-4.18zM127.77 215.04h4.18v2.02h-4.18zM127.77 193.92h4.18v2.02h-4.18zM135.92 192.00h4.18v2.02h-4.18zM144.07 192.00h4.18v2.02h-4.18zM160.38 211.20h4.18v2.02h-4.18zM172.61 209.28h4.18v3.94h-4.18zM172.61 190.08h4.18v2.02h-4.18zM176.69 190.08h4.18v2.02h-4.18zM180.77 190.08h4.18v2.02h-4.18zM188.92 213.12h4.18v2.02h-4.18zM188.92 209.28h4.18v2.02h-4.18zM193.00 209.28h4.18v2.02h-4.18zM193.00 190.08h4.18v2.02h-4.18zM197.08 211.20h4.18v2.02h-4.18zM217.46 211.20h4.18v2.02h-4.18zM221.54 211.20h4.18v2.02h-4.18zM225.62 211.20h4.18v2.02h-4.18zM229.69 184.32h4.18v2.02h-4.18zM246.00 207.36h4.18v2.02h-4.18zM254.16 186.24h4.18v2.02h-4.18zM258.23 211.20h4.18v2.02h-4.18zM282.70 216.96h4.18v2.02h-4.18zM290.85 213.12h4.18v2.02h-4.18zM319.39 197.76h4.18v2.02h-4.18zM335.70 197.76h4.18v2.02h-4.18zM347.93 190.08h4.18v2.02h-4.18zM356.08 184.32h4.18v2.02h-4.18zM376.47 201.60h4.18v2.02h-4.18zM388.70 234.24h4.18v2.02h-4.18zM388.70 211.20h4.18v2.02h-4.18zM396.85 218.88h4.18v2.02h-4.18zM400.93 241.92h4.18v2.02h-4.18zM405.01 241.92h4.18v2.02h-4.18zM409.09 241.92h4.18v2.02h-4.18zM413.16 241.92h4.18v2.02h-4.18zM425.39 234.24h4.18v2.02h-4.18zM425.39 230.40h4.18v2.02h-4.18zM433.55 230.40h4.18v2.02h-4.18zM433.55 226.56h4.18v2.02h-4.18zM437.63 247.68h4.18v2.02h-4.18zM441.70 232.32h4.18v2.02h-4.18zM441.70 226.56h4.18v2.02h-4.18zM441.70 220.80h4.18v2.02h-4.18zM445.78 226.56h4.18v2.02h-4.18zM449.86 230.40h4.18v2.02h-4.18zM453.93 220.80h4.18v2.02h-4.18zM458.01 230.40h4.18v2.02h-4.18zM458.01 224.64h4.18v3.94h-4.18zM462.09 222.72h4.18v2.02h-4.18zM466.16 220.80h4.18v2.02h-4.18zM466.16 215.04h4.18v2.02h-4.18zM470.24 232.32h4.18v2.02h-4.18zM474.32 230.40h4.18v3.94h-4.18zM474.32 224.64h4.18v2.02h-4.18zM474.32 220.80h4.18v2.02h-4.18zM474.32 216.96h4.18v2.02h-4.18zM478.40 228.48h4.18v2.02h-4.18zM482.47 226.56h4.18v3.94h-4.18zM486.55 224.64h4.18v2.02h-4.18zM486.55 205.44h4.18v2.02h-4.18zM490.63 216.96h4.18v2.02h-4.18zM494.70 230.40h4.18v2.02h-4.18zM494.70 218.88h4.18v2.02h-4.18zM494.70 215.04h4.18v2.02h-4.18zM498.78 222.72h4.18v2.02h-4.18zM502.86 220.80h4.18v2.02h-4.18zM506.94 220.80h4.18v2.02h-4.18zM506.94 216.96h4.18v2.02h-4.18zM511.01 207.36h4.18v2.02h-4.18zM511.01 203.52h4.18v2.02h-4.18zM515.09 211.20h4.18v2.02h-4.18zM515.09 203.52h4.18v2.02h-4.18zM519.17 211.20h4.18v2.02h-4.18zM519.17 203.52h4.18v2.02h-4.18zM523.24 207.36h4.18v2.02h-4.18zM523.24 203.52h4.18v2.02h-4.18zM527.32 207.36h4.18v2.02h-4.18zM527.32 203.52h4.18v2.02h-4.18zM531.40 199.68h4.18v2.02h-4.18zM535.48 199.68h4.18v2.02h-4.18z"/>
<path fill="#8000ff" d="M111.46 172.80h4.18v2.02h-4.18zM115.53 176.64h4.18v2.02h-4.18zM119.61 172.80h4.18v2.02h-4.18zM119.61 167.04h4.18v2.02h-4.18zM140.00 211.20h4.18v2.02h-4.18zM148.15 211.20h4.18v2.02h-4.18zM168.54 211.20h4.18v2.02h-4.18zM168.54 188.16h4.18v2.02h-4.18zM172.61 188.16h4.18v2.02h-4.18zM176.69 209.28h4.18v2.02h-4.18zM188.92 211.20h4.18v2.02h-4.18zM193.00 213.12h4.18v2.02h-4.18zM197.08 213.12h4.18v2.02h-4.18zM201.15 218.88h4.18v2.02h-4.18zM209.31 186.24h4.18v2.02h-4.18zM233.77 180.48h4.18v2.02h-4.18zM254.16 211.20h4.18v3.94h-4.18zM258.23 213.12h4.18v2.02h-4.18zM258.23 190.08h4.18v2.02h-4.18zM262.31 216.96h4.18v2.02h-4.18zM270.46 220.80h4.18v2.02h-4.18zM290.85 197.76h4.18v2.02h-4.18zM303.08 207.36h4.18v2.02h-4.18zM307.16 209.28h4.18v2.02h-4.18zM307.16 205.44h4.18v2.02h-4.18zM311.24 201.60h4.18v2.02h-4.18zM319.39 182.40h4.18v2.02h-4.18zM323.47 197.76h4.18v2.02h-4.18zM331.62 192.00h4.18v2.02h-4.18zM335.70 190.08h4.18v2.02h-4.18zM339.77 197.76h4.18v2.02h-4.18zM343.85 209.28h4.18v2.02h-4.18zM343.85 190.08h4.18v2.02h-4.18zM347.93 203.52h4.18v2.02h-4.18zM352.01 190.08h4.18v2.02h-4.18zM356.08 186.24h4.18v2.02h-4.18zM360.16 213.12h4.18v2.02h-4.18zM360.16 197.76h4.18v2.02h-4.18zM360.16 193.92h4.18v2.02h-4.18zM364.24 211.20h4.18v2.02h-4.18zM364.24 180.48h4.18v2.02h-4.18zM368.31 184.32h4.18v2.02h-4.18zM372.39 192.00h4.18v2.02h-4.18zM376.47 220.80h4.18v2.02h-4.18zM392.78 238.08h4.18v2.02h-4.18zM392.78 211.20h4.18v2.02h-4.18zM396.85 211.20h4.18v2.02h-4.18zM400.93 220.80h4.18v2.02h-4.18zM405.01 247.68h4.18v2.02h-4.18zM409.09 247.68h4.18v2.02h-4.18zM413.16 220.80h4.18v2.02h-4.18zM421.32 241.92h4.18v3.94h-4.18zM425.39 222.72h4.18v2.02h-4.18zM437.63 238.08h4.18v2.02h-4.18zM437.63 218.88h4.18v3.94h-4.18zM445.78 261.12h4.18v2.02h-4.18zM445.78 232.32h4.18v2.02h-4.18zM445.78 224.64h4.18v2.02h-4.18zM445.78 216.96h4.18v2.02h-4.18zM449.86 224.64h4.18v2.02h-4.18zM453.93 226.56h4.18v9.70h-4.18zM458.01 234.24h4.18v5.86h-4.18zM458.01 222.72h4.18v2.02h-4.18zM458.01 216.96h4.18v2.02h-4.18zM462.09 224.64h4.18v3.94h-4.18zM462.09 216.96h4.18v2.02h-4.18zM466.16 232.32h4.18v2.02h-4.18zM466.16 222.72h4.18v2.02h-4.18zM466.16 213.12h4.18v2.02h-4.18zM470.24 238.08h4.18v2.02h-4.18zM470.24 228.48h4.18v2.02h-4.18zM470.24 224.64h4.18v2.02h-4.18zM478.40 222.72h4.18v2.02h-4.18zM486.55 234.24h4.18v2.02h-4.18zM486.55 230.40h4.18v2.02h-4.18zM486.55 226.56h4.18v2.02h-4.18zM486.55 209.28h4.18v2.02h-4.18zM490.63 228.48h4.18v2.02h-4.18zM490.63 224.64h4.18v2.02h-4.18zM494.70 240.00h4.18v2.02h-4.18zM494.70 224.64h4.18v3.94h-4.18zM494.70 220.80h4.18v2.02h-4.18zM494.70 216.96h4.18v2.02h-4.18zM494.70 207.36h4.18v2.02h-4.18zM498.78 226.56h4.18v2.02h-4.18zM498.78 205.44h4.18v2.02h-4.18zM502.86 226.56h4.18v2.02h-4.18zM502.86 207.36h4.18v2.02h-4.18zM502.86 199.68h4.18v2.02h-4.18zM506.94 222.72h4.18v2.02h-4.18zM506.94 203.52h4.18v3.94h-4.18zM511.01 222.72h4.18v3.94h-4.18zM511.01 218.88h4.18v2.02h-4.18zM511.01 213.12h4.18v2.02h-4.18zM511.01 209.28h4.18v2.02h-4.18zM515.09 216.96h4.18v2.02h-4.18zM515.09 207.36h4.18v2.02h-4.18zM519.17 216.96h4.18v2.02h-4.18zM519.17 207.36h4.18v2.02h-4.18zM523.24 222.72h4.18v2.02h-4.18zM523.24 215.04h4.18v2.02h-4.18zM527.32 222.72h4.18v2.02h-4.18zM527.32 215.04h4.18v2.02h-4.18zM531.40 211.20h4.18v2.02h-4.18zM531.40 193.92h4.18v2.02h-4.18zM535.48 211.20h4.18v2.02h-4.18zM535.48 193.92h4.18v2.02h-4.18z"/>
<path fill="#9c00ff" d="M111.46 163.20h4.18v2.02h-4.18zM123.69 167.04h4.18v2.02h-4.18zM127.77 211.20h4.18v2.02h-4.18zM131.84 215.04h4.18v2.02h-4.18zM131.84 190.08h4.18v3.94h-4.18zM135.92 215.04h4.18v2.02h-4.18zM144.07 216.96h4.18v2.02h-4.18zM148.15 190.08h4.18v2.02h-4.18zM152.23 213.12h4.18v2.02h-4.18zM152.23 188.16h4.18v2.02h-4.18zM152.23 172.80h4.18v2.02h-4.18zM160.38 218.88h4.18v2.02h-4.18zM160.38 213.12h4.18v2.02h-4.18zM164.46 218.88h4.18v2.02h-4.18zM164.46 215.04h4.18v2.02h-4.18zM168.54 220.80h4.18v2.02h-4.18zM172.61 220.80h4.18v2.02h-4.18zM172.61 213.12h4.18v2.02h-4.18zM172.61 184.32h4.18v2.02h-4.18zM180.77 224.64h4.18v2.02h-4.18zM180.77 213.12h4.18v3.94h-4.18zM180.77 188.16h4.18v2.02h-4.18zM184.84 215.04h4.18v2.02h-4.18zM184.84 188.16h4.18v2.02h-4.18zM188.92 188.16h4.18v2.02h-4.18zM201.15 224.64h4.18v2.02h-4.18zM209.31 215.04h4.18v2.02h-4.18zM213.38 215.04h4.18v2.02h-4.18zM213.38 186.24h4.18v2.02h-4.18zM217.46 218.88h4.18v2.02h-4.18zM221.54 209.28h4.18v2.02h-4.18zM225.62 213.12h4.18v2.02h-4.18zM229.69 213.12h4.18v2.02h-4.18zM229.69 180.48h4.18v3.94h-4.18zM233.77 220.80h4.18v2.02h-4.18zM233.77 211.20h4.18v3.94h-4.18zM241.92 216.96h4.18v2.02h-4.18zM241.92 182.40h4.18v2.02h-4.18zM246.00 211.20h4.18v2.02h-4.18zM250.08 211.20h4.18v2.02h-4.18zM262.31 193.92h4.18v2.02h-4.18zM274.54 197.76h4.18v2.02h-4.18zM294.93 211.20h4.18v3.94h-4.18zM303.08 209.28h4.18v2.02h-4.18zM307.16 207.36h4.18v2.02h-4.18zM307.16 188.16h4.18v2.02h-4.18zM311.24 205.44h4.18v2.02h-4.18zM311.24 186.24h4.18v2.02h-4.18zM331.62 193.92h4.18v2.02h-4.18zM335.70 192.00h4.18v2.02h-4.18zM339.77 190.08h4.18v2.02h-4.18zM339.77 186.24h4.18v2.02h-4.18zM339.77 172.80h4.18v2.02h-4.18zM343.85 201.60h4.18v2.02h-4.18zM343.85 192.00h4.18v5.86h-4.18zM343.85 170.88h4.18v2.02h-4.18zM352.01 192.00h4.18v2.02h-4.18zM356.08 213.12h4.18v2.02h-4.18zM356.08 205.44h4.18v3.94h-4.18zM356.08 197.76h4.18v2.02h-4.18zM356.08 188.16h4.18v3.94h-4.18zM360.16 195.84h4.18v2.02h-4.18zM368.31 182.40h4.18v2.02h-4.18zM380.55 226.56h4.18v2.02h-4.18zM380.55 203.52h4.18v3.94h-4.18zM384.62 203.52h4.18v2.02h-4.18zM396.85 241.92h4.18v2.02h-4.18zM396.85 216.96h4.18v2.02h-4.18zM405.01 220.80h4.18v2.02h-4.18zM409.09 243.84h4.18v2.02h-4.18zM413.16 245.76h4.18v2.02h-4.18zM413.16 218.88h4.18v2.02h-4.18zM421.32 218.88h4.18v2.02h-4.18zM421.32 211.20h4.18v2.02h-4.18zM429.47 245.76h4.18v2.02h-4.18zM437.63 251.52h4.18v2.02h-4.18zM437.63 241.92h4.18v2.02h-4.18zM437.63 236.16h4.18v2.02h-4.18zM437.63 216.96h4.18v2.02h-4.18zM441.70 241.92h4.18v2.02h-4.18zM441.70 203.52h4.18v2.02h-4.18zM445.78 240.00h4.18v2.02h-4.18zM445.78 234.24h4.18v3.94h-4.18zM449.86 236.16h4.18v2.02h-4.18zM449.86 215.04h4.18v2.02h-4.18zM453.93 247.68h4.18v2.02h-4.18zM453.93 238.08h4.18v2.02h-4.18zM453.93 222.72h4.18v2.02h-4.18zM453.93 213.12h4.18v2.02h-4.18zM458.01 241.92h4.18v2.02h-4.18zM458.01 213.12h4.18v2.02h-4.18zM462.09 211.20h4.18v2.02h-4.18zM466.16 241.92h4.18v2.02h-4.18zM466.16 234.24h4.18v2.02h-4.18zM466.16 226.56h4.18v2.02h-4.18zM466.16 211.20h4.18v2.02h-4.18zM470.24 236.16h4.18v2.02h-4.18zM470.24 211.20h4.18v2.02h-4.18zM474.32 247.68h4.18v2.02h-4.18zM474.32 238.08h4.18v2.02h-4.18zM478.40 249.60h4.18v2.02h-4.18zM478.40 230.40h4.18v7.78h-4.18zM482.47 230.40h4.18v2.02h-4.18zM482.47 207.36h4.18v2.02h-4.18zM486.55 232.32h4.18v2.02h-4.18zM490.63 232.32h4.18v2.02h-4.18zM490.63 201.60h4.18v2.02h-4.18zM494.70 232.32h4.18v3.94h-4.18zM494.70 205.44h4.18v2.02h-4.18zM498.78 232.32h4.18v2.02h-4.18zM498.78 207.36h4.18v2.02h-4.18zM502.86 240.00h4.18v2.02h-4.18zM502.86 203.52h4.18v2.02h-4.18zM506.94 228.48h4.18v2.02h-4.18zM506.94 193.92h4.18v2.02h-4.18zM511.01 226.56h4.18v2.02h-4.18zM511.01 201.60h4.18v2.02h-4.18zM515.09 222.72h4.18v2.02h-4.18zM515.09 218.88h4.18v2.02h-4.18zM519.17 222.72h4.18v2.02h-4.18zM519.17 218.88h4.18v2.02h-4.18zM523.24 220.80h4.18v2.02h-4.18zM527.32 220.80h4.18v2.02h-4.18zM531.40 215.04h4.18v2.02h-4.18zM531.40 207.36h4.18v2.02h-4.18zM531.40 190.08h4.18v2.02h-4.18zM535.48 215.04h4.18v2.02h-4.18zM535.48 207.36h4.18v2.02h-4.18zM535.48 190.08h4.18v2.02h-4.18z"/>
<path fill="#ffaaff" d="M111.46 149.76h4.18v2.02h-4.18zM115.53 128.64h4.18v2.02h-4.18zM119.61 197.76h4.18v2.02h-4.18zM123.69 132.48h4.18v2.02h-4.18zM127.77 153.60h4.18v2.02h-4.18zM131.84 218.88h4.18v2.02h-4.18zM131.84 178.56h4.18v2.02h-4.18zM131.84 153.60h4.18v2.02h-4.18zM131.84 136.32h4.18v2.02h-4.18zM131.84 132.48h4.18v2.02h-4.18zM135.92 178.56h4.18v2.02h-4.18zM135.92 136.32h4.18v2.02h-4.18zM140.00 155.52h4.18v2.02h-4.18zM140.00 134.40h4.18v2.02h-4.18zM144.07 155.52h4.18v2.02h-4.18zM148.15 155.52h4.18v2.02h-4.18zM152.23 224.64h4.18v2.02h-4.18zM156.31 163.20h4.18v2.02h-4.18zM160.38 228.48h4.18v2.02h-4.18zM160.38 168.96h4.18v2.02h-4.18zM164.46 230.40h4.18v2.02h-4.18zM168.54 174.72h4.18v2.02h-4.18zM176.69 232.32h4.18v2.02h-4.18zM176.69 182.40h4.18v2.02h-4.18zM176.69 178.56h4.18v2.02h-4.18zM180.77 230.40h4.18v2.02h-4.18zM197.08 230.40h4.18v2.02h-4.18zM201.15 230.40h4.18v2.02h-4.18zM205.23 178.56h4.18v2.02h-4.18zM209.31 232.32h4.18v2.02h-4.18zM213.38 232.32h4.18v2.02h-4.18zM221.54 230.40h4.18v2.02h-4.18zM225.62 228.48h4.18v2.02h-4.18zM229.69 228.48h4.18v2.02h-4.18zM241.92 174.72h4.18v2.02h-4.18zM246.00 228.48h4.18v2.02h-4.18zM250.08 228.48h4.18v2.02h-4.18zM250.08 174.72h4.18v2.02h-4.18zM254.16 228.48h4.18v2.02h-4.18zM254.16 172.80h4.18v2.02h-4.18zM258.23 178.56h4.18v2.02h-4.18zM266.39 226.56h4.18v2.02h-4.18zM270.46 226.56h4.18v2.02h-4.18zM270.46 180.48h4.18v2.02h-4.18zM274.54 226.56h4.18v2.02h-4.18zM274.54 180.48h4.18v5.86h-4.18zM278.62 186.24h4.18v3.94h-4.18zM282.70 186.24h4.18v2.02h-4.18zM286.77 182.40h4.18v3.94h-4.18zM290.85 192.00h4.18v2.02h-4.18zM290.85 186.24h4.18v2.02h-4.18zM294.93 220.80h4.18v2.02h-4.18zM294.93 192.00h4.18v2.02h-4.18zM299.00 188.16h4.18v2.02h-4.18zM303.08 182.40h4.18v2.02h-4.18zM307.16 184.32h4.18v2.02h-4.18zM311.24 180.48h4.18v3.94h-4.18zM315.31 216.96h4.18v2.02h-4.18zM319.39 211.20h4.18v2.02h-4.18zM319.39 176.64h4.18v2.02h-4.18zM323.47 211.20h4.18v2.02h-4.18zM323.47 174.72h4.18v2.02h-4.18zM331.62 170.88h4.18v2.02h-4.18zM339.77 167.04h4.18v2.02h-4.18zM347.93 161.28h4.18v2.02h-4.18zM356.08 163.20h4.18v2.02h-4.18zM364.24 216.96h4.18v2.02h-4.18zM368.31 172.80h4.18v2.02h-4.18zM372.39 220.80h4.18v2.02h-4.18zM372.39 178.56h4.18v2.02h-4.18zM376.47 188.16h4.18v2.02h-4.18zM380.55 195.84h4.18v2.02h-4.18zM384.62 197.76h4.18v2.02h-4.18zM388.70 199.68h4.18v2.02h-4.18zM392.78 201.60h4.18v2.02h-4.18zM396.85 245.76h4.18v2.02h-4.18zM400.93 249.60h4.18v2.02h-4.18zM405.01 251.52h4.18v2.02h-4.18zM405.01 203.52h4.18v2.02h-4.18zM409.09 201.60h4.18v2.02h-4.18zM413.16 257.28h4.18v2.02h-4.18zM429.47 263.04h4.18v2.02h-4.18zM433.55 264.96h4.18v2.02h-4.18zM433.55 197.76h4.18v2.02h-4.18zM441.70 263.04h4.18v3.94h-4.18zM441.70 195.84h4.18v2.02h-4.18zM445.78 263.04h4.18v2.02h-4.18zM445.78 195.84h4.18v2.02h-4.18zM449.86 264.96h4.18v2.02h-4.18zM453.93 261.12h4.18v3.94h-4.18zM458.01 264.96h4.18v2.02h-4.18zM462.09 263.04h4.18v2.02h-4.18zM466.16 261.12h4.18v7.78h-4.18zM466.16 192.00h4.18v2.02h-4.18zM470.24 261.12h4.18v3.94h-4.18zM474.32 259.20h4.18v5.86h-4.18zM478.40 257.28h4.18v3.94h-4.18zM482.47 257.28h4.18v3.94h-4.18zM482.47 188.16h4.18v2.02h-4.18zM486.55 259.20h4.18v2.02h-4.18zM486.55 255.36h4.18v2.02h-4.18zM486.55 188.16h4.18v2.02h-4.18zM490.63 257.28h4.18v2.02h-4.18zM490.63 253.44h4.18v2.02h-4.18zM494.70 253.44h4.18v5.86h-4.18zM498.78 255.36h4.18v2.02h-4.18zM502.86 184.32h4.18v2.02h-4.18zM506.94 249.60h4.18v5.86h-4.18zM511.01 247.68h4.18v5.86h-4.18zM515.09 247.68h4.18v2.02h-4.18zM519.17 247.68h4.18v2.02h-4.18zM523.24 243.84h4.18v3.94h-4.18zM523.24 176.64h4.18v3.94h-4.18zM527.32 243.84h4.18v3.94h-4.18zM527.32 176.64h4.18v3.94h-4.18zM531.40 245.76h4.18v2.02h-4.18zM531.40 240.00h4.18v3.94h-4.18zM535.48 245.76h4.18v2.02h-4.18zM535.48 240.00h4.18v3.94h-4.18z"/>
<path fill="#0000ff" d="M115.53 192.00h4.18v2.02h-4.18zM115.53 184.32h4.18v2.02h-4.18zM119.61 193.92h4.18v2.02h-4.18zM123.69 193.92h4.18v2.02h-4.18zM131.84 207.36h4.18v2.02h-4.18zM131.84 197.76h4.18v2.02h-4.18zM135.92 199.68h4.18v2.02h-4.18zM148.15 195.84h4.18v3.94h-4.18zM156.31 205.44h4.18v2.02h-4.18zM164.46 203.52h4.18v2.02h-4.18zM168.54 203.52h4.18v2.02h-4.18zM168.54 192.00h4.18v2.02h-4.18zM188.92 203.52h4.18v2.02h-4.18zM197.08 203.52h4.18v3.94h-4.18zM201.15 207.36h4.18v2.02h-4.18zM201.15 203.52h4.18v2.02h-4.18zM209.31 192.00h4.18v2.02h-4.18zM217.46 193.92h4.18v2.02h-4.18zM217.46 186.24h4.18v2.02h-4.18zM221.54 199.68h4.18v2.02h-4.18zM221.54 186.24h4.18v2.02h-4.18zM225.62 193.92h4.18v2.02h-4.18zM225.62 186.24h4.18v2.02h-4.18zM229.69 193.92h4.18v2.02h-4.18zM229.69 186.24h4.18v2.02h-4.18zM241.92 197.76h4.18v2.02h-4.18zM246.00 197.76h4.18v2.02h-4.18zM250.08 197.76h4.18v2.02h-4.18zM258.23 207.36h4.18v2.02h-4.18zM274.54 205.44h4.18v2.02h-4.18zM282.70 215.04h4.18v2.02h-4.18zM294.93 207.36h4.18v2.02h-4.18zM319.39 184.32h4.18v2.02h-4.18zM323.47 192.00h4.18v2.02h-4.18zM335.70 184.32h4.18v2.02h-4.18zM343.85 180.48h4.18v2.02h-4.18zM347.93 178.56h4.18v2.02h-4.18zM352.01 178.56h4.18v2.02h-4.18zM352.01 170.88h4.18v2.02h-4.18zM356.08 172.80h4.18v2.02h-4.18zM360.16 186.24h4.18v2.02h-4.18zM364.24 186.24h4.18v2.02h-4.18zM368.31 192.00h4.18v2.02h-4.18zM380.55 209.28h4.18v2.02h-4.18zM388.70 216.96h4.18v2.02h-4.18zM396.85 234.24h4.18v2.02h-4.18zM400.93 238.08h4.18v2.02h-4.18zM400.93 224.64h4.18v5.86h-4.18zM409.09 234.24h4.18v2.02h-4.18zM409.09 228.48h4.18v2.02h-4.18zM413.16 234.24h4.18v2.02h-4.18zM413.16 230.40h4.18v2.02h-4.18zM417.24 226.56h4.18v2.02h-4.18zM498.78 213.12h4.18v2.02h-4.18zM502.86 213.12h4.18v2.02h-4.18z"/>
<path fill="#00ffff" d="M115.53 190.08h4.18v2.02h-4.18zM303.08 195.84h4.18v2.02h-4.18zM319.39 192.00h4.18v2.02h-4.18zM319.39 186.24h4.18v2.02h-4.18zM339.77 178.56h4.18v2.02h-4.18z"/>
<path fill="#007fff" d="M115.53 188.16h4.18v2.02h-4.18zM164.46 197.76h4.18v2.02h-4.18zM168.54 197.76h4.18v2.02h-4.18zM172.61 197.76h4.18v2.02h-4.18zM176.69 197.76h4.18v2.02h-4.18zM180.77 197.76h4.18v2.02h-4.18zM221.54 190.08h4.18v2.02h-4.18zM225.62 190.08h4.18v2.02h-4.18zM229.69 188.16h4.18v2.02h-4.18zM233.77 188.16h4.18v2.02h-4.18zM237.85 188.16h4.18v2.02h-4.18zM266.39 209.28h4.18v2.02h-4.18zM270.46 209.28h4.18v2.02h-4.18zM274.54 215.04h4.18v2.02h-4.18zM278.62 207.36h4.18v2.02h-4.18zM303.08 201.60h4.18v2.02h-4.18zM307.16 199.68h4.18v2.02h-4.18zM307.16 192.00h4.18v2.02h-4.18zM311.24 190.08h4.18v2.02h-4.18zM343.85 174.72h4.18v2.02h-4.18zM372.39 209.28h4.18v2.02h-4.18zM388.70 220.80h4.18v2.02h-4.18zM392.78 228.48h4.18v2.02h-4.18z"/>
<path fill="#0035ff" d="M115.53 186.24h4.18v2.02h-4.18zM119.61 186.24h4.18v2.02h-4.18zM127.77 203.52h4.18v2.02h-4.18zM140.00 205.44h4.18v2.02h-4.18zM156.31 199.68h4.18v3.94h-4.18zM160.38 201.60h4.18v2.02h-4.18zM164.46 201.60h4.18v2.02h-4.18zM164.46 195.84h4.18v2.02h-4.18zM168.54 201.60h4.18v2.02h-4.18zM172.61 193.92h4.18v2.02h-4.18zM188.92 201.60h4.18v2.02h-4.18zM188.92 197.76h4.18v2.02h-4.18zM197.08 201.60h4.18v2.02h-4.18zM197.08 197.76h4.18v2.02h-4.18zM201.15 199.68h4.18v2.02h-4.18zM209.31 195.84h4.18v3.94h-4.18zM233.77 192.00h4.18v2.02h-4.18zM237.85 186.24h4.18v2.02h-4.18zM246.00 192.00h4.18v2.02h-4.18zM246.00 188.16h4.18v2.02h-4.18zM323.47 182.40h4.18v2.02h-4.18zM352.01 174.72h4.18v2.02h-4.18zM360.16 182.40h4.18v2.02h-4.18zM364.24 190.08h4.18v3.94h-4.18zM372.39 199.68h4.18v3.94h-4.18zM380.55 211.20h4.18v2.02h-4.18zM388.70 218.88h4.18v2.02h-4.18zM392.78 230.40h4.18v3.94h-4.18zM400.93 230.40h4.18v2.02h-4.18zM405.01 230.40h4.18v2.02h-4.18z"/>
<path fill="#3900ff" d="M115.53 182.40h4.18v2.02h-4.18zM123.69 197.76h4.18v2.02h-4.18zM123.69 182.40h4.18v2.02h-4.18zM127.77 195.84h4.18v2.02h-4.18zM131.84 209.28h4.18v2.02h-4.18zM131.84 195.84h4.18v2.02h-4.18zM135.92 195.84h4.18v2.02h-4.18zM168.54 207.36h4.18v2.02h-4.18zM176.69 207.36h4.18v2.02h-4.18zM184.84 207.36h4.18v2.02h-4.18zM188.92 207.36h4.18v2.02h-4.18zM193.00 207.36h4.18v2.02h-4.18zM201.15 211.20h4.18v2.02h-4.18zM205.23 211.20h4.18v2.02h-4.18zM209.31 209.28h4.18v2.02h-4.18zM213.38 218.88h4.18v2.02h-4.18zM213.38 211.20h4.18v2.02h-4.18zM213.38 190.08h4.18v2.02h-4.18zM217.46 207.36h4.18v2.02h-4.18zM233.77 207.36h4.18v2.02h-4.18zM233.77 201.60h4.18v2.02h-4.18zM237.85 207.36h4.18v2.02h-4.18zM237.85 201.60h4.18v3.94h-4.18zM246.00 184.32h4.18v2.02h-4.18zM250.08 205.44h4.18v2.02h-4.18zM254.16 205.44h4.18v2.02h-4.18zM258.23 192.00h4.18v2.02h-4.18zM262.31 213.12h4.18v2.02h-4.18zM266.39 201.60h4.18v2.02h-4.18zM290.85 211.20h4.18v2.02h-4.18zM303.08 205.44h4.18v2.02h-4.18zM307.16 201.60h4.18v2.02h-4.18zM315.31 199.68h4.18v2.02h-4.18zM319.39 195.84h4.18v2.02h-4.18zM331.62 176.64h4.18v2.02h-4.18zM335.70 186.24h4.18v3.94h-4.18zM347.93 211.20h4.18v2.02h-4.18zM347.93 180.48h4.18v2.02h-4.18zM352.01 211.20h4.18v2.02h-4.18zM356.08 170.88h4.18v2.02h-4.18zM360.16 209.28h4.18v2.02h-4.18zM360.16 192.00h4.18v2.02h-4.18zM364.24 199.68h4.18v2.02h-4.18zM364.24 182.40h4.18v2.02h-4.18zM372.39 195.84h4.18v2.02h-4.18zM376.47 222.72h4.18v2.02h-4.18zM380.55 207.36h4.18v2.02h-4.18zM388.70 232.32h4.18v2.02h-4.18zM388.70 213.12h4.18v2.02h-4.18zM396.85 236.16h4.18v3.94h-4.18zM400.93 222.72h4.18v2.02h-4.18zM405.01 240.00h4.18v2.02h-4.18zM409.09 240.00h4.18v2.02h-4.18zM409.09 222.72h4.18v2.02h-4.18zM413.16 238.08h4.18v2.02h-4.18zM417.24 238.08h4.18v2.02h-4.18zM417.24 222.72h4.18v2.02h-4.18zM421.32 236.16h4.18v2.02h-4.18zM421.32 228.48h4.18v3.94h-4.18zM425.39 232.32h4.18v2.02h-4.18zM425.39 224.64h4.18v5.86h-4.18zM429.47 236.16h4.18v2.02h-4.18zM433.55 232.32h4.18v2.02h-4.18zM433.55 222.72h4.18v2.02h-4.18zM437.63 230.40h4.18v3.94h-4.18zM441.70 230.40h4.18v2.02h-4.18zM445.78 230.40h4.18v2.02h-4.18zM458.01 218.88h4.18v2.02h-4.18zM462.09 230.40h4.18v2.02h-4.18zM462.09 218.88h4.18v2.02h-4.18zM466.16 218.88h4.18v2.02h-4.18zM470.24 216.96h4.18v3.94h-4.18zM474.32 218.88h4.18v2.02h-4.18zM474.32 215.04h4.18v2.02h-4.18zM478.40 218.88h4.18v2.02h-4.18zM478.40 215.04h4.18v2.02h-4.18zM482.47 224.64h4.18v2.02h-4.18zM482.47 213.12h4.18v3.94h-4.18zM486.55 218.88h4.18v2.02h-4.18zM486.55 213.12h4.18v2.02h-4.18zM498.78 215.04h4.18v2.02h-4.18zM506.94 211.20h4.18v2.02h-4.18zM523.24 197.76h4.18v2.02h-4.18zM527.32 197.76h4.18v2.02h-4.18zM531.40 197.76h4.18v2.02h-4.18zM535.48 197.76h4.18v2.02h-4.18z"/>
<path fill="#ffeeff" d="M115.53 126.72h4.18v2.02h-4.18zM127.77 128.64h4.18v2.02h-4.18zM144.07 140.16h4.18v2.02h-4.18zM148.15 145.92h4.18v2.02h-4.18zM152.23 226.56h4.18v2.02h-4.18zM160.38 165.12h4.18v2.02h-4.18zM164.46 168.96h4.18v2.02h-4.18zM164.46 163.20h4.18v2.02h-4.18zM168.54 168.96h4.18v3.94h-4.18zM168.54 163.20h4.18v2.02h-4.18zM172.61 172.80h4.18v3.94h-4.18zM172.61 167.04h4.18v2.02h-4.18zM176.69 176.64h4.18v2.02h-4.18zM176.69 172.80h4.18v2.02h-4.18zM176.69 163.20h4.18v3.94h-4.18zM180.77 174.72h4.18v2.02h-4.18zM180.77 165.12h4.18v2.02h-4.18zM184.84 234.24h4.18v2.02h-4.18zM184.84 176.64h4.18v2.02h-4.18zM184.84 168.96h4.18v2.02h-4.18zM184.84 165.12h4.18v2.02h-4.18zM188.92 167.04h4.18v5.86h-4.18zM188.92 161.28h4.18v2.02h-4.18zM193.00 178.56h4.18v2.02h-4.18zM193.00 170.88h4.18v2.02h-4.18zM193.00 165.12h4.18v3.94h-4.18zM197.08 178.56h4.18v2.02h-4.18zM197.08 168.96h4.18v2.02h-4.18zM197.08 157.44h4.18v2.02h-4.18zM201.15 176.64h4.18v3.94h-4.18zM201.15 159.36h4.18v2.02h-4.18zM205.23 174.72h4.18v2.02h-4.18zM209.31 176.64h4.18v2.02h-4.18zM209.31 153.60h4.18v2.02h-4.18zM213.38 170.88h4.18v5.86h-4.18zM213.38 153.60h4.18v2.02h-4.18zM217.46 165.12h4.18v7.78h-4.18zM217.46 153.60h4.18v2.02h-4.18zM217.46 149.76h4.18v2.02h-4.18zM221.54 174.72h4.18v2.02h-4.18zM221.54 168.96h4.18v2.02h-4.18zM221.54 155.52h4.18v3.94h-4.18zM221.54 151.68h4.18v2.02h-4.18zM221.54 145.92h4.18v2.02h-4.18zM225.62 230.40h4.18v2.02h-4.18zM225.62 165.12h4.18v2.02h-4.18zM225.62 149.76h4.18v9.70h-4.18zM229.69 170.88h4.18v2.02h-4.18zM229.69 163.20h4.18v3.94h-4.18zM229.69 157.44h4.18v3.94h-4.18zM229.69 151.68h4.18v2.02h-4.18zM233.77 167.04h4.18v5.86h-4.18zM233.77 163.20h4.18v2.02h-4.18zM233.77 159.36h4.18v2.02h-4.18zM233.77 153.60h4.18v3.94h-4.18zM237.85 168.96h4.18v2.02h-4.18zM237.85 161.28h4.18v5.86h-4.18zM237.85 157.44h4.18v2.02h-4.18zM237.85 147.84h4.18v2.02h-4.18zM241.92 172.80h4.18v2.02h-4.18zM241.92 167.04h4.18v3.94h-4.18zM241.92 155.52h4.18v3.94h-4.18zM241.92 151.68h4.18v2.02h-4.18zM241.92 145.92h4.18v3.94h-4.18zM246.00 167.04h4.18v2.02h-4.18zM246.00 161.28h4.18v3.94h-4.18zM246.00 149.76h4.18v2.02h-4.18zM250.08 172.80h4.18v2.02h-4.18zM250.08 163.20h4.18v7.78h-4.18zM250.08 155.52h4.18v2.02h-4.18zM250.08 151.68h4.18v2.02h-4.18zM250.08 147.84h4.18v2.02h-4.18zM254.16 153.60h4.18v9.70h-4.18zM254.16 147.84h4.18v2.02h-4.18zM258.23 174.72h4.18v3.94h-4.18zM258.23 167.04h4.18v2.02h-4.18zM258.23 161.28h4.18v3.94h-4.18zM258.23 155.52h4.18v2.02h-4.18zM258.23 149.76h4.18v2.02h-4.18zM262.31 226.56h4.18v2.02h-4.18zM262.31 170.88h4.18v3.94h-4.18zM262.31 167.04h4.18v2.02h-4.18zM262.31 157.44h4.18v2.02h-4.18zM262.31 149.76h4.18v3.94h-4.18zM266.39 172.80h4.18v3.94h-4.18zM266.39 165.12h4.18v5.86h-4.18zM266.39 155.52h4.18v5.86h-4.18zM266.39 147.84h4.18v3.94h-4.18zM270.46 172.80h4.18v2.02h-4.18zM270.46 168.96h4.18v2.02h-4.18zM270.46 153.60h4.18v2.02h-4.18zM274.54 168.96h4.18v2.02h-4.18zM274.54 145.92h4.18v2.02h-4.18zM278.62 167.04h4.18v2.02h-4.18zM278.62 163.20h4.18v2.02h-4.18zM278.62 147.84h4.18v7.78h-4.18zM282.70 180.48h4.18v3.94h-4.18zM282.70 172.80h4.18v3.94h-4.18zM282.70 165.12h4.18v3.94h-4.18zM282.70 145.92h4.18v5.86h-4.18zM286.77 186.24h4.18v2.02h-4.18zM286.77 180.48h4.18v2.02h-4.18zM286.77 172.80h4.18v3.94h-4.18zM286.77 167.04h4.18v2.02h-4.18zM286.77 161.28h4.18v2.02h-4.18zM286.77 149.76h4.18v5.86h-4.18zM290.85 172.80h4.18v2.02h-4.18zM290.85 165.12h4.18v3.94h-4.18zM290.85 151.68h4.18v2.02h-4.18zM294.93 186.24h4.18v2.02h-4.18zM294.93 180.48h4.18v2.02h-4.18zM294.93 170.88h4.18v7.78h-4.18zM294.93 151.68h4.18v2.02h-4.18zM299.00 184.32h4.18v2.02h-4.18zM299.00 178.56h4.18v2.02h-4.18zM299.00 170.88h4.18v2.02h-4.18zM299.00 167.04h4.18v2.02h-4.18zM299.00 149.76h4.18v3.94h-4.18zM303.08 170.88h4.18v2.02h-4.18zM303.08 165.12h4.18v2.02h-4.18zM303.08 153.60h4.18v2.02h-4.18zM307.16 180.48h4.18v2.02h-4.18zM307.16 176.64h4.18v2.02h-4.18zM307.16 170.88h4.18v2.02h-4.18zM307.16 157.44h4.18v3.94h-4.18zM307.16 149.76h4.18v2.02h-4.18zM311.24 176.64h4.18v2.02h-4.18zM311.24 163.20h4.18v7.78h-4.18zM311.24 159.36h4.18v2.02h-4.18zM311.24 155.52h4.18v2.02h-4.18zM315.31 176.64h4.18v2.02h-4.18zM315.31 170.88h4.18v3.94h-4.18zM315.31 161.28h4.18v2.02h-4.18zM319.39 174.72h4.18v2.02h-4.18zM319.39 167.04h4.18v2.02h-4.18zM319.39 147.84h4.18v3.94h-4.18zM323.47 170.88h4.18v2.02h-4.18zM323.47 163.20h4.18v5.86h-4.18zM323.47 155.52h4.18v2.02h-4.18zM327.54 170.88h4.18v2.02h-4.18zM327.54 161.28h4.18v2.02h-4.18zM327.54 151.68h4.18v2.02h-4.18zM327.54 147.84h4.18v2.02h-4.18zM331.62 161.28h4.18v7.78h-4.18zM335.70 167.04h4.18v2.02h-4.18zM335.70 163.20h4.18v2.02h-4.18zM335.70 157.44h4.18v2.02h-4.18zM339.77 163.20h4.18v2.02h-4.18zM343.85 159.36h4.18v2.02h-4.18zM360.16 167.04h4.18v2.02h-4.18zM376.47 186.24h4.18v2.02h-4.18zM376.47 180.48h4.18v2.02h-4.18zM380.55 230.40h4.18v2.02h-4.18zM380.55 178.56h4.18v2.02h-4.18zM388.70 197.76h4.18v2.02h-4.18zM392.78 176.64h4.18v2.02h-4.18zM396.85 197.76h4.18v2.02h-4.18zM400.93 201.60h4.18v2.02h-4.18zM405.01 197.76h4.18v3.94h-4.18zM405.01 190.08h4.18v2.02h-4.18zM405.01 186.24h4.18v2.02h-4.18zM409.09 199.68h4.18v2.02h-4.18zM409.09 192.00h4.18v2.02h-4.18zM413.16 199.68h4.18v2.02h-4.18zM413.16 195.84h4.18v2.02h-4.18zM417.24 195.84h4.18v3.94h-4.18zM417.24 188.16h4.18v2.02h-4.18zM425.39 195.84h4.18v2.02h-4.18zM429.47 192.00h4.18v2.02h-4.18zM429.47 180.48h4.18v2.02h-4.18zM433.55 193.92h4.18v2.02h-4.18zM433.55 176.64h4.18v2.02h-4.18zM437.63 193.92h4.18v2.02h-4.18zM437.63 178.56h4.18v2.02h-4.18zM441.70 192.00h4.18v2.02h-4.18zM441.70 182.40h4.18v2.02h-4.18zM445.78 193.92h4.18v2.02h-4.18zM449.86 268.80h4.18v2.02h-4.18zM449.86 192.00h4.18v2.02h-4.18zM449.86 188.16h4.18v2.02h-4.18zM449.86 184.32h4.18v2.02h-4.18zM449.86 180.48h4.18v2.02h-4.18zM453.93 266.88h4.18v2.02h-4.18zM453.93 190.08h4.18v2.02h-4.18zM453.93 186.24h4.18v2.02h-4.18zM458.01 168.96h4.18v3.94h-4.18zM462.09 186.24h4.18v3.94h-4.18zM466.16 174.72h4.18v2.02h-4.18zM470.24 188.16h4.18v3.94h-4.18zM470.24 174.72h4.18v2.02h-4.18zM474.32 264.96h4.18v2.02h-4.18zM478.40 263.04h4.18v2.02h-4.18zM478.40 186.24h4.18v2.02h-4.18zM482.47 172.80h4.18v2.02h-4.18zM486.55 186.24h4.18v2.02h-4.18zM486.55 182.40h4.18v2.02h-4.18zM490.63 186.24h4.18v2.02h-4.18zM490.63 172.80h4.18v2.02h-4.18zM494.70 259.20h4.18v2.02h-4.18zM494.70 186.24h4.18v2.02h-4.18zM498.78 257.28h4.18v2.02h-4.18zM498.78 163.20h4.18v2.02h-4.18zM502.86 253.44h4.18v3.94h-4.18zM506.94 180.48h4.18v2.02h-4.18zM506.94 168.96h4.18v2.02h-4.18zM511.01 180.48h4.18v2.02h-4.18zM515.09 174.72h4.18v3.94h-4.18zM519.17 174.72h4.18v3.94h-4.18zM523.24 249.60h4.18v2.02h-4.18zM523.24 174.72h4.18v2.02h-4.18zM523.24 165.12h4.18v3.94h-4.18zM527.32 249.60h4.18v2.02h-4.18zM527.32 174.72h4.18v2.02h-4.18zM527.32 165.12h4.18v3.94h-4.18zM531.40 172.80h4.18v2.02h-4.18zM535.48 172.80h4.18v2.02h-4.18z"/>
<path fill="#0095ff" d="M119.61 190.08h4.18v2.02h-4.18zM241.92 190.08h4.18v2.02h-4.18zM266.39 211.20h4.18v2.02h-4.18zM274.54 209.28h4.18v2.02h-4.18zM290.85 201.60h4.18v2.02h-4.18zM335.70 182.40h4.18v2.02h-4.18zM339.77 176.64h4.18v2.02h-4.18zM372.39 207.36h4.18v2.02h-4.18zM376.47 213.12h4.18v2.02h-4.18zM380.55 213.12h4.18v2.02h-4.18zM388.70 222.72h4.18v3.94h-4.18z"/>
<path fill="#000bff" d="M119.61 184.32h4.18v2.02h-4.18zM123.69 186.24h4.18v2.02h-4.18zM127.77 205.44h4.18v3.94h-4.18zM127.77 199.68h4.18v2.02h-4.18zM131.84 199.68h4.18v2.02h-4.18zM140.00 199.68h4.18v2.02h-4.18zM148.15 203.52h4.18v2.02h-4.18zM152.23 203.52h4.18v2.02h-4.18zM156.31 203.52h4.18v2.02h-4.18zM160.38 203.52h4.18v2.02h-4.18zM172.61 203.52h4.18v2.02h-4.18zM172.61 192.00h4.18v2.02h-4.18zM180.77 201.60h4.18v2.02h-4.18zM188.92 192.00h4.18v2.02h-4.18zM193.00 193.92h4.18v2.02h-4.18zM201.15 205.44h4.18v2.02h-4.18zM205.23 203.52h4.18v3.94h-4.18zM213.38 192.00h4.18v2.02h-4.18zM221.54 193.92h4.18v2.02h-4.18zM225.62 203.52h4.18v2.02h-4.18zM225.62 195.84h4.18v3.94h-4.18zM229.69 195.84h4.18v3.94h-4.18zM233.77 193.92h4.18v5.86h-4.18zM237.85 197.76h4.18v2.02h-4.18zM241.92 199.68h4.18v2.02h-4.18zM246.00 195.84h4.18v2.02h-4.18zM258.23 205.44h4.18v2.02h-4.18zM258.23 195.84h4.18v2.02h-4.18zM266.39 203.52h4.18v2.02h-4.18zM282.70 203.52h4.18v2.02h-4.18zM286.77 213.12h4.18v2.02h-4.18zM294.93 197.76h4.18v2.02h-4.18zM299.00 205.44h4.18v2.02h-4.18zM315.31 186.24h4.18v2.02h-4.18zM335.70 176.64h4.18v2.02h-4.18zM360.16 188.16h4.18v2.02h-4.18zM360.16 180.48h4.18v2.02h-4.18zM376.47 216.96h4.18v2.02h-4.18zM380.55 222.72h4.18v2.02h-4.18zM405.01 234.24h4.18v2.02h-4.18zM405.01 226.56h4.18v2.02h-4.18zM409.09 232.32h4.18v2.02h-4.18zM409.09 226.56h4.18v2.02h-4.18zM425.39 236.16h4.18v2.02h-4.18z"/>
<path fill="#aa00ff" d="M119.61 174.72h4.18v2.02h-4.18zM123.69 172.80h4.18v2.02h-4.18zM127.77 213.12h4.18v2.02h-4.18zM131.84 213.12h4.18v2.02h-4.18zM135.92 213.12h4.18v2.02h-4.18zM140.00 216.96h4.18v2.02h-4.18zM156.31 218.88h4.18v2.02h-4.18zM156.31 172.80h4.18v2.02h-4.18zM160.38 215.04h4.18v2.02h-4.18zM164.46 182.40h4.18v2.02h-4.18zM168.54 213.12h4.18v2.02h-4.18zM172.61 222.72h4.18v2.02h-4.18zM172.61 215.04h4.18v3.94h-4.18zM176.69 213.12h4.18v5.86h-4.18zM193.00 216.96h4.18v2.02h-4.18zM197.08 188.16h4.18v2.02h-4.18zM205.23 215.04h4.18v2.02h-4.18zM213.38 222.72h4.18v2.02h-4.18zM217.46 222.72h4.18v2.02h-4.18zM237.85 216.96h4.18v2.02h-4.18zM237.85 211.20h4.18v2.02h-4.18zM254.16 182.40h4.18v2.02h-4.18zM262.31 218.88h4.18v2.02h-4.18zM266.39 195.84h4.18v2.02h-4.18zM270.46 222.72h4.18v2.02h-4.18zM270.46 199.68h4.18v3.94h-4.18zM274.54 201.60h4.18v2.02h-4.18zM278.62 220.80h4.18v2.02h-4.18zM286.77 218.88h4.18v2.02h-4.18zM299.00 213.12h4.18v2.02h-4.18zM327.54 176.64h4.18v2.02h-4.18zM335.70 195.84h4.18v2.02h-4.18zM335.70 172.80h4.18v2.02h-4.18zM339.77 211.20h4.18v2.02h-4.18zM339.77 201.60h4.18v2.02h-4.18zM339.77 195.84h4.18v2.02h-4.18zM339.77 192.00h4.18v2.02h-4.18zM347.93 207.36h4.18v2.02h-4.18zM347.93 195.84h4.18v2.02h-4.18zM347.93 186.24h4.18v3.94h-4.18zM347.93 182.40h4.18v2.02h-4.18zM352.01 213.12h4.18v2.02h-4.18zM352.01 203.52h4.18v3.94h-4.18zM352.01 197.76h4.18v2.02h-4.18zM352.01 182.40h4.18v3.94h-4.18zM356.08 199.68h4.18v2.02h-4.18zM356.08 168.96h4.18v2.02h-4.18zM360.16 207.36h4.18v2.02h-4.18zM368.31 215.04h4.18v2.02h-4.18zM372.39 188.16h4.18v2.02h-4.18zM376.47 197.76h4.18v2.02h-4.18zM388.70 207.36h4.18v2.02h-4.18zM392.78 240.00h4.18v2.02h-4.18zM396.85 215.04h4.18v2.02h-4.18zM400.93 218.88h4.18v2.02h-4.18zM405.01 245.76h4.18v2.02h-4.18zM405.01 213.12h4.18v2.02h-4.18zM409.09 245.76h4.18v2.02h-4.18zM409.09 220.80h4.18v2.02h-4.18zM413.16 243.84h4.18v2.02h-4.18zM413.16 216.96h4.18v2.02h-4.18zM417.24 216.96h4.18v3.94h-4.18zM421.32 245.76h4.18v2.02h-4.18zM425.39 241.92h4.18v5.86h-4.18zM425.39 218.88h4.18v2.02h-4.18zM429.47 218.88h4.18v2.02h-4.18zM433.55 241.92h4.18v5.86h-4.18zM433.55 216.96h4.18v2.02h-4.18zM437.63 249.60h4.18v2.02h-4.18zM441.70 261.12h4.18v2.02h-4.18zM441.70 247.68h4.18v2.02h-4.18zM441.70 240.00h4.18v2.02h-4.18zM441.70 215.04h4.18v2.02h-4.18zM445.78 241.92h4.18v3.94h-4.18zM445.78 238.08h4.18v2.02h-4.18zM445.78 215.04h4.18v2.02h-4.18zM449.86 243.84h4.18v2.02h-4.18zM449.86 213.12h4.18v2.02h-4.18zM453.93 243.84h4.18v3.94h-4.18zM453.93 240.00h4.18v2.02h-4.18zM458.01 245.76h4.18v3.94h-4.18zM458.01 240.00h4.18v2.02h-4.18zM462.09 213.12h4.18v2.02h-4.18zM466.16 236.16h4.18v2.02h-4.18zM470.24 241.92h4.18v2.02h-4.18zM474.32 245.76h4.18v2.02h-4.18zM474.32 241.92h4.18v2.02h-4.18zM474.32 234.24h4.18v2.02h-4.18zM474.32 211.20h4.18v2.02h-4.18zM478.40 240.00h4.18v2.02h-4.18zM478.40 205.44h4.18v3.94h-4.18zM486.55 251.52h4.18v2.02h-4.18zM494.70 203.52h4.18v2.02h-4.18zM498.78 240.00h4.18v2.02h-4.18zM498.78 234.24h4.18v2.02h-4.18zM498.78 228.48h4.18v2.02h-4.18zM498.78 203.52h4.18v2.02h-4.18zM502.86 234.24h4.18v2.02h-4.18zM502.86 228.48h4.18v2.02h-4.18zM502.86 192.00h4.18v2.02h-4.18zM506.94 224.64h4.18v2.02h-4.18zM506.94 199.68h4.18v2.02h-4.18zM511.01 232.32h4.18v2.02h-4.18zM511.01 228.48h4.18v2.02h-4.18zM515.09 197.76h4.18v2.02h-4.18zM515.09 193.92h4.18v2.02h-4.18zM519.17 197.76h4.18v2.02h-4.18zM519.17 193.92h4.18v2.02h-4.18zM523.24 226.56h4.18v2.02h-4.18zM527.32 226.56h4.18v2.02h-4.18zM531.40 222.72h4.18v2.02h-4.18zM531.40 182.40h4.18v2.02h-4.18zM535.48 222.72h4.18v2.02h-4.18zM535.48 182.40h4.18v2.02h-4.18z"/>
<path fill="#0055ff" d="M123.69 192.00h4.18v2.02h-4.18zM156.31 197.76h4.18v2.02h-4.18zM164.46 199.68h4.18v2.02h-4.18zM172.61 195.84h4.18v2.02h-4.18zM176.69 199.68h4.18v2.02h-4.18zM184.84 197.76h4.18v2.02h-4.18zM188.92 199.68h4.18v2.02h-4.18zM197.08 199.68h4.18v2.02h-4.18zM213.38 197.76h4.18v2.02h-4.18zM233.77 190.08h4.18v2.02h-4.18zM237.85 190.08h4.18v2.02h-4.18zM241.92 188.16h4.18v2.02h-4.18zM250.08 190.08h4.18v5.86h-4.18zM258.23 199.68h4.18v2.02h-4.18zM262.31 207.36h4.18v2.02h-4.18zM274.54 207.36h4.18v2.02h-4.18zM278.62 215.04h4.18v2.02h-4.18zM339.77 180.48h4.18v2.02h-4.18zM343.85 178.56h4.18v2.02h-4.18zM368.31 205.44h4.18v2.02h-4.18zM372.39 203.52h4.18v2.02h-4.18zM376.47 207.36h4.18v2.02h-4.18zM384.62 222.72h4.18v2.02h-4.18zM392.78 226.56h4.18v2.02h-4.18zM396.85 228.48h4.18v3.94h-4.18z"/>
<path fill="#0020ff" d="M127.77 201.60h4.18v2.02h-4.18zM131.84 203.52h4.18v3.94h-4.18zM144.07 201.60h4.18v2.02h-4.18zM148.15 205.44h4.18v2.02h-4.18zM148.15 199.68h4.18v3.94h-4.18zM152.23 201.60h4.18v2.02h-4.18zM152.23 195.84h4.18v2.02h-4.18zM164.46 193.92h4.18v2.02h-4.18zM168.54 193.92h4.18v2.02h-4.18zM176.69 203.52h4.18v2.02h-4.18zM180.77 193.92h4.18v2.02h-4.18zM188.92 193.92h4.18v2.02h-4.18zM193.00 195.84h4.18v2.02h-4.18zM197.08 195.84h4.18v2.02h-4.18zM201.15 195.84h4.18v2.02h-4.18zM205.23 207.36h4.18v2.02h-4.18zM209.31 199.68h4.18v3.94h-4.18zM213.38 205.44h4.18v2.02h-4.18zM217.46 197.76h4.18v2.02h-4.18zM225.62 192.00h4.18v2.02h-4.18zM246.00 199.68h4.18v2.02h-4.18zM250.08 199.68h4.18v2.02h-4.18zM254.16 199.68h4.18v2.02h-4.18zM258.23 201.60h4.18v2.02h-4.18zM270.46 205.44h4.18v2.02h-4.18zM274.54 216.96h4.18v2.02h-4.18zM356.08 178.56h4.18v2.02h-4.18zM360.16 184.32h4.18v2.02h-4.18zM368.31 203.52h4.18v2.02h-4.18zM376.47 205.44h4.18v2.02h-4.18zM380.55 220.80h4.18v2.02h-4.18zM384.62 224.64h4.18v2.02h-4.18z"/>
<path fill="#0040ff" d="M156.31 195.84h4.18v2.02h-4.18zM160.38 199.68h4.18v2.02h-4.18zM168.54 195.84h4.18v2.02h-4.18zM176.69 195.84h4.18v2.02h-4.18zM184.84 195.84h4.18v2.02h-4.18zM193.00 201.60h4.18v2.02h-4.18zM201.15 201.60h4.18v2.02h-4.18zM201.15 197.76h4.18v2.02h-4.18zM213.38 203.52h4.18v2.02h-4.18zM217.46 192.00h4.18v2.02h-4.18zM237.85 192.00h4.18v2.02h-4.18zM241.92 192.00h4.18v2.02h-4.18zM246.00 193.92h4.18v2.02h-4.18zM262.31 203.52h4.18v2.02h-4.18zM266.39 213.12h4.18v2.02h-4.18zM303.08 193.92h4.18v2.02h-4.18zM327.54 180.48h4.18v2.02h-4.18zM356.08 176.64h4.18v2.02h-4.18zM368.31 193.92h4.18v2.02h-4.18zM380.55 218.88h4.18v2.02h-4.18zM388.70 226.56h4.18v2.02h-4.18zM396.85 232.32h4.18v2.02h-4.18z"/>
<path fill="#00d4ff" d="M274.54 213.12h4.18v2.02h-4.18zM278.62 209.28h4.18v3.94h-4.18zM282.70 207.36h4.18v2.02h-4.18zM286.77 205.44h4.18v2.02h-4.18zM299.00 203.52h4.18v2.02h-4.18zM299.00 197.76h4.18v2.02h-4.18zM323.47 190.08h4.18v2.02h-4.18zM380.55 215.04h4.18v2.02h-4.18z"/>
<path fill="#00ffea" d="M282.70 209.28h4.18v2.02h-4.18zM286.77 207.36h4.18v3.94h-4.18z"/>
<path fill="#00ffd4" d="M290.85 205.44h4.18v2.02h-4.18zM327.54 182.40h4.18v2.02h-4.18z"/>
<path fill="#00ff40" d="M294.93 203.52h4.18v2.02h-4.18z"/>
<path fill="#00ffaa" d="M294.93 201.60h4.18v2.02h-4.18zM299.00 201.60h4.18v2.02h-4.18zM303.08 199.68h4.18v2.02h-4.18zM307.16 197.76h4.18v2.02h-4.18z"/>
<path fill="#00ff80" d="M299.00 199.68h4.18v2.02h-4.18zM311.24 192.00h4.18v2.02h-4.18zM331.62 182.40h4.18v2.02h-4.18z"/>
<path fill="#00ff95" d="M303.08 197.76h4.18v2.02h-4.18zM311.24 195.84h4.18v2.02h-4.18zM327.54 186.24h4.18v2.02h-4.18z"/>
<path fill="#00ff15" d="M307.16 195.84h4.18v2.02h-4.18zM315.31 192.00h4.18v2.02h-4.18zM319.39 188.16h4.18v2.02h-4.18zM327.54 184.32h4.18v2.02h-4.18z"/>
<path fill="#00ff6a" d="M311.24 193.92h4.18v2.02h-4.18z"/>
<path fill="#00eaff" d="M315.31 193.92h4.18v2.02h-4.18zM331.62 180.48h4.18v2.02h-4.18z"/>
<path fill="#00ff00" d="M319.39 190.08h4.18v2.02h-4.18z"/>
</g>
<path d="M77.50 48.00V336.00M109.50 48.00V336.00M128.50 48.00V336.00M142.50 48.00V336.00M153.50 48.00V336.00M161.50 48.00V336.00M168.50 48.00V336.00M175.50 48.00V336.00M180.50 48.00V336.00M185.50 48.00V336.00M218.50 48.00V336.00M237.50 48.00V336.00M250.50 48.00V336.00M261.50 48.00V336.00M269.50 48.00V336.00M277.50 48.00V336.00M283.50 48.00V336.00M289.50 48.00V336.00M294.50 48.00V336.00M326.50 48.00V336.00M345.50 48.00V336.00M359.50 48.00V336.00M369.50 48.00V336.00M378.50 48.00V336.00M385.50 48.00V336.00M391.50 48.00V336.00M397.50 48.00V336.00M402.50 48.00V336.00M434.50 48.00V336.00M454.50 48.00V336.00M467.50 48.00V336.00M478.50 48.00V336.00M486.50 48.00V336.00M493.50 48.00V336.00M500.50 48.00V336.00M505.50 48.00V336.00M510.50 48.00V336.00M76.80 336.50H537.60M76.80 298.50H537.60M76.80 259.50H537.60M76.80 221.50H537.60M76.80 182.50H537.60M76.80 144.50H537.60M76.80 106.50H537.60M76.80 67.50H537.60" stroke="#b0b0b0" stroke-width="1.111" fill="none" clip-path="url(#c)"/>
<path d="M185.15 127.68L222.25 139.02L239.88 164.16L283.00 182.40L356.32 140.16L365.31 137.28L380.11 145.92L390.76 169.91L422.17 182.40L434.47 217.91L569.79 193.93" stroke="#666666" stroke-width="2.778" fill="none" stroke-linejoin="round" stroke-linecap="square" clip-path="url(#c)"/>
<path d="M185.15 274.56L210.12 272.06L250.38 272.06L283.00 276.87L303.62 266.30L334.70 237.40L362.14 222.91L369.24 222.90L377.81 238.08L401.85 266.40L410.43 271.19L422.78 263.29L438.74 292.81L455.99 307.19L472.63 312.00L493.42 312.00L510.67 307.20L530.52 307.18L566.10 311.98L594.52 306.01" stroke="#666666" stroke-width="2.778" fill="none" stroke-linejoin="round" stroke-linecap="square" clip-path="url(#c)"/>
<rect x="77.50" y="48.50" width="461.00" height="288.00" fill="none" stroke="#000" stroke-width="1.111"/>
<path d="M77.50 336.50v5.36M185.50 336.50v5.36M294.50 336.50v5.36M402.50 336.50v5.36M510.50 336.50v5.36M77.50 336.50h-5.36M77.50 298.50h-5.36M77.50 259.50h-5.36M77.50 221.50h-5.36M77.50 182.50h-5.36M77.50 144.50h-5.36M77.50 106.50h-5.36M77.50 67.50h-5.36" stroke="#000" stroke-width="1.111" fill="none"/>
<path d="M109.50 336.50v3.28M128.50 336.50v3.28M142.50 336.50v3.28M153.50 336.50v3.28M161.50 336.50v3.28M168.50 336.50v3.28M175.50 336.50v3.28M180.50 336.50v3.28M218.50 336.50v3.28M237.50 336.50v3.28M250.50 336.50v3.28M261.50 336.50v3.28M269.50 336.50v3.28M277.50 336.50v3.28M283.50 336.50v3.28M289.50 336.50v3.28M326.50 336.50v3.28M345.50 336.50v3.28M359.50 336.50v3.28M369.50 336.50v3.28M378.50 336.50v3.28M385.50 336.50v3.28M391.50 336.50v3.28M397.50 336.50v3.28M434.50 336.50v3.28M454.50 336.50v3.28M467.50 336.50v3.28M478.50 336.50v3.28M486.50 336.50v3.28M493.50 336.50v3.28M500.50 336.50v3.28M505.50 336.50v3.28" stroke="#000" stroke-width="0.833" fill="none"/>
<g font-size="13.89px" fill="#000">
<text x="77.50" y="357.28" text-anchor="middle">0.01</text>
<text x="185.85" y="357.28" text-anchor="middle">0.1</text>
<text x="294.20" y="357.28" text-anchor="middle">1</text>
<text x="402.55" y="357.28" text-anchor="middle">10</text>
<text x="510.90" y="357.28" text-anchor="middle">100</text>
<text x="67.58" y="342.00" text-anchor="end">−200</text>
<text x="67.58" y="303.00" text-anchor="end">−180</text>
<text x="67.58" y="265.00" text-anchor="end">−160</text>
<text x="67.58" y="226.00" text-anchor="end">−140</text>
<text x="67.58" y="188.00" text-anchor="end">−120</text>
<text x="67.58" y="150.00" text-anchor="end">−100</text>
<text x="67.58" y="111.00" text-anchor="end">−80</text>
<text x="67.58" y="73.00" text-anchor="end">−60</text>
<text x="306.80" y="376.40" text-anchor="middle">Period [s]</text>
<text id="yl" transform="translate(15.00 283.10) rotate(-90)" text-anchor="start">Amplitude <tspan dx="-0.5">[</tspan><tspan font-style="italic">m</tspan><tspan font-size="9.72px" dy="-5.3" dx="1.1">2</tspan><tspan dy="5.3" dx="0.5" font-style="italic">/s</tspan><tspan font-size="9.72px" dy="-5.3" dx="1.0">4</tspan><tspan dy="5.3" dx="-0.1" font-style="italic">/H</tspan><tspan dx="-0.6" font-style="italic">z</tspan><tspan dx="-0.3">]</tspan><tspan dx="0.1"> [dB]</tspan></text>
</g>
<text x="306.95" y="40.17" text-anchor="middle" font-size="16.60px" xml:space="preserve">HP.VLX..HHE   2021-03-11 -- 2021-04-09  (1310/1310 segments)</text>
<rect x="566.50" y="48.50" width="15.00" height="288.00" fill="url(#g)" stroke="#000" stroke-width="1.111"/>
<g font-size="13.89px" fill="#000">
<text x="590.82" y="342.28">0</text>
<text x="590.82" y="294.28">5</text>
<text x="590.82" y="246.28">10</text>
<text x="590.82" y="198.28">15</text>
<text x="590.82" y="150.28">20</text>
<text x="590.82" y="102.28">25</text>
<text x="590.82" y="54.28">30</text>
<text transform="translate(625.30 194.00) rotate(-90)" text-anchor="middle">[%]</text>
</g>
<path d="M581.50 336.50h5.36M581.50 288.50h5.36M581.50 240.50h5.36M581.50 192.50h5.36M581.50 144.50h5.36M581.50 96.50h5.36M581.50 48.50h5.36" stroke="#000" stroke-width="1.111" fill="none"/>
<g shape-rendering="crispEdges">
<rect x="116.00" y="379.20" width="172.00" height="7.68" fill="#008000"/>
<rect x="289.00" y="379.20" width="96.00" height="7.68" fill="#008000"/>
<rect x="393.00" y="379.20" width="64.00" height="7.68" fill="#008000"/>
<rect x="458.00" y="379.20" width="15.00" height="7.68" fill="#008000"/>
<rect x="474.00" y="379.20" width="50.00" height="7.68" fill="#008000"/>
<rect x="116.00" y="386.88" width="55.00" height="11.52" fill="#0000ff"/>
<rect x="172.00" y="386.88" width="27.00" height="11.52" fill="#0000ff"/>
<rect x="200.00" y="386.88" width="68.00" height="11.52" fill="#0000ff"/>
<rect x="269.00" y="386.88" width="13.00" height="11.52" fill="#0000ff"/>
<rect x="283.00" y="386.88" width="5.00" height="11.52" fill="#0000ff"/>
<rect x="289.00" y="386.88" width="90.00" height="11.52" fill="#0000ff"/>
<rect x="380.00" y="386.88" width="5.00" height="11.52" fill="#0000ff"/>
<rect x="393.00" y="386.88" width="64.00" height="11.52" fill="#0000ff"/>
<rect x="458.00" y="386.88" width="15.00" height="11.52" fill="#0000ff"/>
<rect x="474.00" y="386.88" width="2.00" height="11.52" fill="#0000ff"/>
<rect x="477.00" y="386.88" width="46.00" height="11.52" fill="#0000ff"/>
</g>
<rect x="96.50" y="379.50" width="448.00" height="19.00" fill="none" stroke="#000" stroke-width="1.111"/>
<g font-size="13.89px" fill="#000">
<text transform="translate(142.16 418.82) rotate(-30)" text-anchor="end">2021-03-13</text>
<text transform="translate(197.80 418.82) rotate(-30)" text-anchor="end">2021-03-17</text>
<text transform="translate(253.00 418.82) rotate(-30)" text-anchor="end">2021-03-21</text>
<text transform="translate(308.40 418.82) rotate(-30)" text-anchor="end">2021-03-25</text>
<text transform="translate(363.80 418.82) rotate(-30)" text-anchor="end">2021-03-29</text>
<text transform="translate(405.30 418.82) rotate(-30)" text-anchor="end">2021-04-01</text>
<text transform="translate(460.70 418.82) rotate(-30)" text-anchor="end">2021-04-05</text>
<text transform="translate(516.10 418.82) rotate(-30)" text-anchor="end">2021-04-09</text>
</g>
<path d="M144.50 398.50v5.36M200.50 398.50v5.36M255.50 398.50v5.36M310.50 398.50v5.36M366.50 398.50v5.36M407.50 398.50v5.36M463.50 398.50v5.36M518.50 398.50v5.36" stroke="#000" stroke-width="1.111" fill="none"/>
</svg></body></html>
